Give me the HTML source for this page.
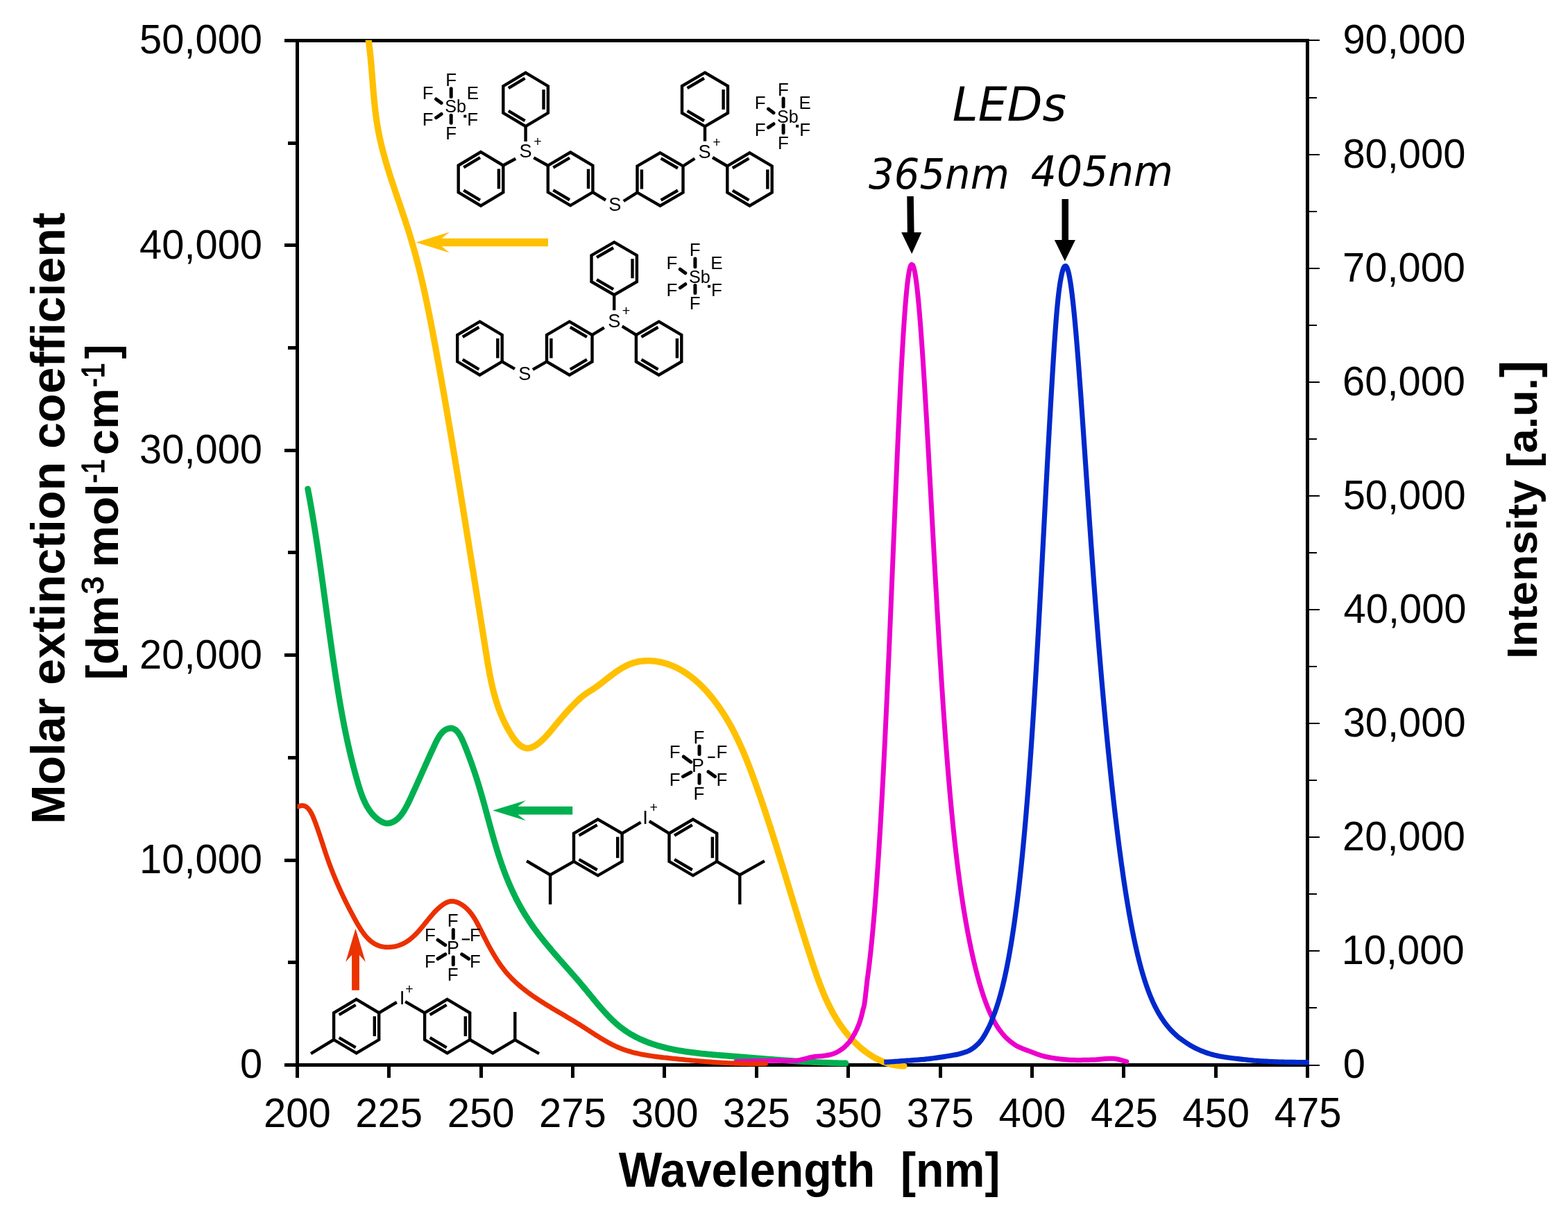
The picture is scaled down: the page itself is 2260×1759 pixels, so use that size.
<!DOCTYPE html>
<html><head><meta charset="utf-8"><title>Molar extinction coefficient and LED spectra</title>
<style>html,body{margin:0;padding:0;background:#fff;}svg{display:block;}</style>
</head><body>
<svg xmlns="http://www.w3.org/2000/svg" width="2260" height="1759" viewBox="0 0 2260 1759">
<rect width="2260" height="1759" fill="#ffffff"/>
<defs><clipPath id="pc"><rect x="428.5" y="57.8" width="1458.5" height="1490"/></clipPath></defs>
<g stroke="#000" fill="none" shape-rendering="crispEdges">
<path d="M410,58.5 H1887 M410,1535.5 H1887" stroke-width="5"/>
<path d="M428.5,56 V1554 M1884.5,56 V1554" stroke-width="5"/>
<path d="M410,1240.5 H426 M410,944.5 H426 M410,649.5 H426 M410,353.5 H426 M415,1387.5 H426 M415,1092.5 H426 M415,796.5 H426 M415,501.5 H426 M415,206.5 H426 " stroke-width="5"/>
<path d="M560.5,1538 V1554 M693.5,1538 V1554 M825.5,1538 V1554 M957.5,1538 V1554 M1090.5,1538 V1554 M1222.5,1538 V1554 M1355.5,1538 V1554 M1487.5,1538 V1554 M1619.5,1538 V1554 M1752.5,1538 V1554 " stroke-width="5"/>
<path d="M1887,1536 H1902 M1887,1371 H1902 M1887,1207 H1902 M1887,1043 H1902 M1887,879 H1902 M1887,715 H1902 M1887,551 H1902 M1887,387 H1902 M1887,223 H1902 M1887,58 H1902 " stroke-width="2"/>
<path d="M1887,1453 H1898 M1887,1289 H1898 M1887,1125 H1898 M1887,961 H1898 M1887,797 H1898 M1887,633 H1898 M1887,469 H1898 M1887,305 H1898 M1887,141 H1898 " stroke-width="2"/>
</g>
<g clip-path="url(#pc)">
<path d="M530.24,52.01 L530.55,53.99 L530.85,55.97 L531.13,57.95 L531.41,59.93 L531.68,61.91 L531.94,63.89 L532.2,65.88 L532.44,67.86 L532.68,69.85 L532.91,71.83 L533.14,73.82 L533.36,75.81 L533.57,77.8 L533.77,79.79 L533.97,81.78 L534.17,83.77 L534.36,85.76 L534.55,87.75 L534.73,89.74 L534.91,91.74 L535.08,93.73 L535.26,95.72 L535.43,97.71 L535.59,99.71 L535.76,101.7 L535.92,103.7 L536.08,105.69 L536.24,107.68 L536.4,109.68 L536.55,111.67 L536.71,113.66 L536.87,115.66 L537.02,117.65 L537.18,119.65 L537.34,121.64 L537.5,123.63 L537.66,125.63 L537.82,127.62 L537.99,129.62 L538.16,131.61 L538.33,133.6 L538.5,135.59 L538.67,137.59 L538.85,139.58 L539.04,141.57 L539.22,143.56 L539.41,145.55 L539.61,147.54 L539.81,149.53 L540.02,151.52 L540.23,153.51 L540.45,155.5 L540.67,157.49 L540.91,159.48 L541.14,161.46 L541.39,163.45 L541.64,165.43 L541.9,167.41 L542.17,169.4 L542.45,171.38 L542.73,173.36 L543.03,175.33 L543.33,177.31 L543.65,179.29 L543.97,181.26 L544.31,183.23 L544.65,185.2 L545.01,187.17 L545.38,189.14 L545.75,191.1 L546.14,193.06 L546.54,195.02 L546.95,196.98 L547.36,198.94 L547.79,200.89 L548.23,202.84 L548.67,204.79 L549.13,206.74 L549.59,208.69 L550.06,210.63 L550.54,212.57 L551.03,214.51 L551.52,216.45 L552.03,218.39 L552.54,220.32 L553.06,222.25 L553.58,224.18 L554.11,226.11 L554.65,228.04 L555.2,229.96 L555.75,231.89 L556.3,233.81 L556.87,235.73 L557.44,237.64 L558.01,239.56 L558.59,241.47 L559.17,243.39 L559.76,245.3 L560.36,247.21 L560.95,249.12 L561.56,251.03 L562.16,252.93 L562.77,254.84 L563.39,256.74 L564,258.64 L564.62,260.54 L565.25,262.44 L565.87,264.34 L566.5,266.24 L567.13,268.14 L567.77,270.04 L568.4,271.93 L569.04,273.83 L569.68,275.73 L570.32,277.62 L570.96,279.52 L571.61,281.41 L572.25,283.3 L572.9,285.2 L573.54,287.09 L574.19,288.98 L574.83,290.87 L575.48,292.77 L576.13,294.66 L576.77,296.55 L577.42,298.45 L578.06,300.34 L578.7,302.23 L579.35,304.13 L579.99,306.02 L580.63,307.92 L581.26,309.81 L581.9,311.71 L582.53,313.61 L583.17,315.51 L583.79,317.41 L584.42,319.3 L585.04,321.21 L585.66,323.11 L586.28,325.01 L586.9,326.91 L587.51,328.82 L588.11,330.72 L588.71,332.63 L589.31,334.54 L589.91,336.45 L590.5,338.36 L591.08,340.28 L591.66,342.19 L592.23,344.11 L592.8,346.02 L593.37,347.94 L593.93,349.86 L594.49,351.78 L595.04,353.7 L595.59,355.63 L596.14,357.55 L596.68,359.48 L597.21,361.41 L597.74,363.33 L598.27,365.26 L598.79,367.19 L599.31,369.12 L599.83,371.06 L600.34,372.99 L600.85,374.93 L601.35,376.86 L601.85,378.8 L602.35,380.74 L602.84,382.67 L603.33,384.61 L603.82,386.55 L604.3,388.5 L604.78,390.44 L605.25,392.38 L605.73,394.32 L606.19,396.27 L606.66,398.21 L607.12,400.16 L607.58,402.11 L608.04,404.05 L608.49,406 L608.94,407.95 L609.39,409.9 L609.83,411.85 L610.27,413.8 L610.71,415.75 L611.14,417.71 L611.58,419.66 L612.01,421.61 L612.43,423.57 L612.86,425.52 L613.28,427.48 L613.7,429.43 L614.12,431.39 L614.53,433.35 L614.94,435.3 L615.35,437.26 L615.76,439.22 L616.17,441.18 L616.57,443.14 L616.97,445.1 L617.37,447.06 L617.77,449.02 L618.17,450.98 L618.56,452.94 L618.95,454.9 L619.34,456.86 L619.73,458.82 L620.12,460.79 L620.5,462.75 L620.88,464.71 L621.27,466.68 L621.65,468.64 L622.03,470.6 L622.4,472.57 L622.78,474.53 L623.15,476.5 L623.53,478.46 L623.9,480.43 L624.27,482.39 L624.64,484.36 L625.01,486.32 L625.38,488.29 L625.75,490.26 L626.11,492.22 L626.48,494.19 L626.84,496.16 L627.21,498.12 L627.57,500.09 L627.93,502.06 L628.29,504.02 L628.65,505.99 L629.01,507.96 L629.38,509.93 L629.73,511.89 L630.09,513.86 L630.45,515.83 L630.81,517.8 L631.17,519.77 L631.52,521.73 L631.88,523.7 L632.24,525.67 L632.59,527.64 L632.95,529.61 L633.3,531.58 L633.65,533.54 L634.01,535.51 L634.36,537.48 L634.71,539.45 L635.06,541.42 L635.41,543.39 L635.76,545.36 L636.11,547.33 L636.46,549.3 L636.81,551.27 L637.16,553.24 L637.51,555.21 L637.85,557.18 L638.2,559.15 L638.55,561.12 L638.89,563.09 L639.24,565.06 L639.58,567.03 L639.93,569 L640.27,570.97 L640.62,572.94 L640.96,574.91 L641.3,576.88 L641.64,578.85 L641.99,580.82 L642.33,582.79 L642.67,584.76 L643.01,586.73 L643.35,588.7 L643.69,590.68 L644.03,592.65 L644.37,594.62 L644.7,596.59 L645.04,598.56 L645.38,600.53 L645.72,602.5 L646.05,604.48 L646.39,606.45 L646.73,608.42 L647.06,610.39 L647.4,612.36 L647.73,614.34 L648.07,616.31 L648.4,618.28 L648.73,620.25 L649.07,622.22 L649.4,624.2 L649.73,626.17 L650.07,628.14 L650.4,630.11 L650.73,632.09 L651.06,634.06 L651.39,636.03 L651.72,638 L652.05,639.98 L652.38,641.95 L652.71,643.92 L653.04,645.9 L653.37,647.87 L653.7,649.84 L654.03,651.81 L654.36,653.79 L654.68,655.76 L655.01,657.73 L655.34,659.71 L655.67,661.68 L655.99,663.65 L656.32,665.63 L656.65,667.6 L656.97,669.57 L657.3,671.55 L657.62,673.52 L657.95,675.49 L658.27,677.47 L658.6,679.44 L658.92,681.42 L659.25,683.39 L659.57,685.36 L659.89,687.34 L660.22,689.31 L660.54,691.28 L660.86,693.26 L661.19,695.23 L661.51,697.21 L661.83,699.18 L662.15,701.16 L662.47,703.13 L662.8,705.1 L663.12,707.08 L663.44,709.05 L663.76,711.03 L664.08,713 L664.4,714.97 L664.72,716.95 L665.04,718.92 L665.36,720.9 L665.68,722.87 L666,724.85 L666.32,726.82 L666.64,728.8 L666.96,730.77 L667.28,732.74 L667.6,734.72 L667.92,736.69 L668.24,738.67 L668.56,740.64 L668.88,742.62 L669.2,744.59 L669.51,746.57 L669.83,748.54 L670.15,750.52 L670.47,752.49 L670.79,754.47 L671.11,756.44 L671.42,758.42 L671.74,760.39 L672.06,762.37 L672.38,764.34 L672.69,766.32 L673.01,768.29 L673.33,770.26 L673.64,772.24 L673.96,774.21 L674.28,776.19 L674.59,778.16 L674.91,780.14 L675.23,782.11 L675.54,784.09 L675.86,786.06 L676.18,788.04 L676.49,790.01 L676.81,791.99 L677.13,793.97 L677.44,795.94 L677.76,797.92 L678.07,799.89 L678.39,801.87 L678.7,803.84 L679.02,805.82 L679.34,807.79 L679.65,809.77 L679.97,811.74 L680.28,813.72 L680.6,815.69 L680.91,817.67 L681.23,819.64 L681.54,821.62 L681.86,823.59 L682.17,825.57 L682.49,827.54 L682.8,829.52 L683.12,831.49 L683.43,833.47 L683.75,835.44 L684.06,837.42 L684.38,839.39 L684.69,841.37 L685.01,843.35 L685.32,845.32 L685.64,847.3 L685.95,849.27 L686.26,851.25 L686.58,853.22 L686.89,855.2 L687.21,857.17 L687.52,859.15 L687.84,861.12 L688.15,863.1 L688.47,865.07 L688.78,867.05 L689.09,869.02 L689.41,871 L689.72,872.98 L690.04,874.95 L690.35,876.93 L690.67,878.9 L690.98,880.88 L691.3,882.85 L691.61,884.83 L691.93,886.8 L692.24,888.78 L692.55,890.75 L692.87,892.73 L693.18,894.7 L693.5,896.68 L693.81,898.65 L694.13,900.63 L694.44,902.61 L694.76,904.58 L695.07,906.56 L695.39,908.53 L695.7,910.51 L696.02,912.48 L696.33,914.46 L696.65,916.43 L696.96,918.41 L697.28,920.38 L697.59,922.36 L697.91,924.33 L698.22,926.31 L698.54,928.28 L698.85,930.26 L699.17,932.23 L699.48,934.21 L699.8,936.18 L700.11,938.16 L700.43,940.13 L700.74,942.11 L701.06,944.09 L701.38,946.06 L701.7,948.03 L702.02,950.01 L702.34,951.98 L702.66,953.96 L702.99,955.93 L703.32,957.9 L703.66,959.87 L704,961.85 L704.35,963.82 L704.7,965.78 L705.05,967.75 L705.41,969.72 L705.78,971.69 L706.16,973.65 L706.54,975.61 L706.93,977.58 L707.33,979.54 L707.73,981.49 L708.15,983.45 L708.58,985.41 L709.01,987.36 L709.46,989.31 L709.91,991.26 L710.38,993.2 L710.86,995.14 L711.35,997.08 L711.85,999.02 L712.37,1000.95 L712.89,1002.88 L713.43,1004.81 L713.99,1006.73 L714.56,1008.64 L715.14,1010.56 L715.74,1012.47 L716.35,1014.37 L716.98,1016.27 L717.62,1018.16 L718.28,1020.05 L718.96,1021.94 L719.65,1023.81 L720.36,1025.68 L721.08,1027.55 L721.83,1029.4 L722.59,1031.25 L723.36,1033.1 L724.16,1034.93 L724.97,1036.76 L725.8,1038.58 L726.65,1040.39 L727.52,1042.19 L728.4,1043.99 L729.31,1045.77 L730.23,1047.55 L731.17,1049.31 L732.13,1051.07 L733.1,1052.81 L734.1,1054.55 L735.11,1056.27 L736.15,1057.98 L737.2,1059.68 L738.29,1061.36 L739.4,1063.02 L740.55,1064.66 L741.74,1066.27 L742.97,1067.85 L744.25,1069.38 L745.59,1070.87 L746.99,1072.29 L748.47,1073.65 L750.02,1074.91 L751.66,1076.05 L753.39,1077.05 L755.22,1077.86 L757.13,1078.44 L759.11,1078.76 L761.11,1078.78 L763.09,1078.53 L765.03,1078.04 L766.91,1077.37 L768.74,1076.55 L770.5,1075.61 L772.21,1074.58 L773.87,1073.46 L775.49,1072.28 L777.06,1071.04 L778.59,1069.76 L780.09,1068.44 L781.56,1067.08 L783,1065.69 L784.42,1064.28 L785.81,1062.84 L787.18,1061.38 L788.53,1059.91 L789.86,1058.41 L791.17,1056.91 L792.48,1055.39 L793.77,1053.86 L795.05,1052.32 L796.32,1050.78 L797.58,1049.23 L798.85,1047.68 L800.11,1046.13 L801.38,1044.58 L802.65,1043.04 L803.93,1041.5 L805.21,1039.97 L806.5,1038.43 L807.79,1036.91 L809.09,1035.39 L810.39,1033.87 L811.7,1032.36 L813.02,1030.85 L814.34,1029.35 L815.67,1027.85 L817,1026.36 L818.34,1024.88 L819.69,1023.4 L821.05,1021.93 L822.41,1020.47 L823.79,1019.02 L825.17,1017.57 L826.56,1016.13 L827.96,1014.7 L829.37,1013.28 L830.79,1011.88 L832.23,1010.49 L833.68,1009.11 L835.15,1007.76 L836.65,1006.43 L838.16,1005.12 L839.7,1003.84 L841.26,1002.59 L842.85,1001.38 L844.47,1000.21 L846.12,999.07 L847.79,997.98 L849.49,996.91 L851.18,995.86 L852.88,994.8 L854.56,993.72 L856.23,992.61 L857.88,991.48 L859.51,990.32 L861.13,989.15 L862.74,987.97 L864.34,986.77 L865.94,985.55 L867.52,984.34 L869.1,983.11 L870.68,981.88 L872.25,980.65 L873.83,979.41 L875.4,978.18 L876.98,976.95 L878.56,975.73 L880.15,974.51 L881.74,973.3 L883.35,972.1 L884.96,970.91 L886.58,969.74 L888.21,968.59 L889.86,967.45 L891.52,966.34 L893.2,965.25 L894.89,964.19 L896.61,963.16 L898.34,962.16 L900.09,961.19 L901.86,960.27 L903.66,959.39 L905.48,958.55 L907.32,957.77 L909.18,957.04 L911.06,956.37 L912.97,955.75 L914.89,955.2 L916.83,954.7 L918.78,954.26 L920.74,953.88 L922.71,953.55 L924.7,953.28 L926.68,953.06 L928.68,952.9 L930.67,952.79 L932.67,952.73 L934.67,952.72 L936.67,952.77 L938.67,952.86 L940.67,953 L942.66,953.18 L944.65,953.42 L946.63,953.69 L948.6,954.01 L950.57,954.38 L952.53,954.78 L954.47,955.23 L956.41,955.72 L958.34,956.25 L960.26,956.82 L962.17,957.43 L964.06,958.08 L965.94,958.76 L967.8,959.48 L969.66,960.24 L971.49,961.03 L973.31,961.86 L975.12,962.72 L976.91,963.61 L978.68,964.53 L980.44,965.49 L982.18,966.48 L983.9,967.49 L985.61,968.54 L987.3,969.61 L988.97,970.71 L990.62,971.83 L992.26,972.98 L993.88,974.15 L995.48,975.35 L997.07,976.57 L998.63,977.81 L1000.19,979.08 L1001.72,980.36 L1003.24,981.67 L1004.74,982.99 L1006.22,984.33 L1007.69,985.69 L1009.14,987.07 L1010.57,988.46 L1011.99,989.87 L1013.39,991.3 L1014.78,992.74 L1016.15,994.19 L1017.51,995.66 L1018.85,997.14 L1020.18,998.64 L1021.49,1000.15 L1022.79,1001.67 L1024.08,1003.2 L1025.35,1004.75 L1026.6,1006.31 L1027.85,1007.87 L1029.07,1009.45 L1030.29,1011.04 L1031.49,1012.64 L1032.68,1014.24 L1033.86,1015.86 L1035.03,1017.49 L1036.18,1019.12 L1037.32,1020.76 L1038.45,1022.42 L1039.57,1024.07 L1040.67,1025.74 L1041.77,1027.42 L1042.85,1029.1 L1043.92,1030.79 L1044.98,1032.48 L1046.03,1034.19 L1047.07,1035.9 L1048.09,1037.61 L1049.11,1039.34 L1050.12,1041.07 L1051.11,1042.8 L1052.09,1044.54 L1053.07,1046.29 L1054.03,1048.04 L1054.98,1049.8 L1055.93,1051.57 L1056.86,1053.33 L1057.78,1055.11 L1058.69,1056.89 L1059.6,1058.67 L1060.49,1060.46 L1061.38,1062.26 L1062.25,1064.05 L1063.12,1065.86 L1063.98,1067.66 L1064.83,1069.47 L1065.67,1071.29 L1066.51,1073.11 L1067.33,1074.93 L1068.15,1076.75 L1068.96,1078.58 L1069.76,1080.41 L1070.56,1082.25 L1071.34,1084.09 L1072.13,1085.93 L1072.9,1087.77 L1073.67,1089.62 L1074.43,1091.47 L1075.18,1093.32 L1075.93,1095.18 L1076.68,1097.03 L1077.42,1098.89 L1078.15,1100.75 L1078.88,1102.62 L1079.6,1104.48 L1080.32,1106.35 L1081.03,1108.22 L1081.74,1110.09 L1082.45,1111.96 L1083.15,1113.83 L1083.84,1115.71 L1084.54,1117.58 L1085.23,1119.46 L1085.92,1121.34 L1086.6,1123.22 L1087.28,1125.1 L1087.96,1126.98 L1088.64,1128.86 L1089.32,1130.74 L1089.99,1132.63 L1090.66,1134.51 L1091.33,1136.4 L1091.99,1138.28 L1092.66,1140.17 L1093.32,1142.06 L1093.98,1143.95 L1094.63,1145.84 L1095.29,1147.73 L1095.94,1149.62 L1096.59,1151.51 L1097.24,1153.4 L1097.89,1155.29 L1098.53,1157.19 L1099.18,1159.08 L1099.82,1160.98 L1100.46,1162.87 L1101.09,1164.77 L1101.73,1166.66 L1102.36,1168.56 L1102.99,1170.46 L1103.62,1172.36 L1104.25,1174.26 L1104.88,1176.16 L1105.5,1178.06 L1106.13,1179.96 L1106.75,1181.86 L1107.37,1183.76 L1107.99,1185.66 L1108.61,1187.56 L1109.22,1189.47 L1109.84,1191.37 L1110.45,1193.27 L1111.06,1195.18 L1111.67,1197.08 L1112.28,1198.99 L1112.89,1200.89 L1113.49,1202.8 L1114.1,1204.71 L1114.7,1206.61 L1115.31,1208.52 L1115.91,1210.43 L1116.51,1212.34 L1117.11,1214.25 L1117.71,1216.15 L1118.3,1218.06 L1118.9,1219.97 L1119.49,1221.88 L1120.09,1223.79 L1120.68,1225.7 L1121.28,1227.61 L1121.87,1229.52 L1122.46,1231.43 L1123.05,1233.34 L1123.64,1235.26 L1124.23,1237.17 L1124.81,1239.08 L1125.4,1240.99 L1125.99,1242.9 L1126.58,1244.82 L1127.16,1246.73 L1127.75,1248.64 L1128.33,1250.55 L1128.91,1252.47 L1129.5,1254.38 L1130.08,1256.29 L1130.66,1258.21 L1131.25,1260.12 L1131.83,1262.03 L1132.41,1263.95 L1132.99,1265.86 L1133.57,1267.78 L1134.15,1269.69 L1134.73,1271.6 L1135.31,1273.52 L1135.89,1275.43 L1136.47,1277.35 L1137.05,1279.26 L1137.63,1281.18 L1138.21,1283.09 L1138.79,1285 L1139.37,1286.92 L1139.95,1288.83 L1140.53,1290.75 L1141.11,1292.66 L1141.69,1294.58 L1142.28,1296.49 L1142.86,1298.4 L1143.44,1300.32 L1144.02,1302.23 L1144.6,1304.14 L1145.18,1306.06 L1145.76,1307.97 L1146.35,1309.89 L1146.93,1311.8 L1147.51,1313.71 L1148.1,1315.63 L1148.68,1317.54 L1149.27,1319.45 L1149.85,1321.36 L1150.44,1323.28 L1151.03,1325.19 L1151.61,1327.1 L1152.2,1329.01 L1152.79,1330.92 L1153.38,1332.83 L1153.97,1334.75 L1154.56,1336.66 L1155.15,1338.57 L1155.74,1340.48 L1156.34,1342.39 L1156.93,1344.3 L1157.53,1346.21 L1158.12,1348.12 L1158.72,1350.03 L1159.32,1351.93 L1159.92,1353.84 L1160.52,1355.75 L1161.12,1357.66 L1161.72,1359.57 L1162.33,1361.47 L1162.93,1363.38 L1163.54,1365.29 L1164.15,1367.19 L1164.75,1369.1 L1165.36,1371 L1165.98,1372.91 L1166.59,1374.81 L1167.2,1376.71 L1167.82,1378.62 L1168.44,1380.52 L1169.05,1382.42 L1169.67,1384.32 L1170.3,1386.22 L1170.92,1388.12 L1171.55,1390.02 L1172.18,1391.92 L1172.81,1393.82 L1173.44,1395.72 L1174.08,1397.61 L1174.73,1399.51 L1175.37,1401.4 L1176.03,1403.29 L1176.69,1405.18 L1177.35,1407.06 L1178.02,1408.95 L1178.69,1410.83 L1179.38,1412.71 L1180.06,1414.59 L1180.76,1416.47 L1181.46,1418.34 L1182.17,1420.21 L1182.89,1422.08 L1183.62,1423.94 L1184.35,1425.8 L1185.1,1427.66 L1185.85,1429.51 L1186.62,1431.36 L1187.39,1433.2 L1188.18,1435.04 L1188.97,1436.88 L1189.78,1438.71 L1190.59,1440.53 L1191.42,1442.35 L1192.26,1444.17 L1193.12,1445.98 L1193.98,1447.78 L1194.86,1449.58 L1195.75,1451.37 L1196.65,1453.15 L1197.57,1454.93 L1198.51,1456.7 L1199.45,1458.46 L1200.41,1460.22 L1201.39,1461.96 L1202.38,1463.7 L1203.39,1465.43 L1204.41,1467.15 L1205.45,1468.86 L1206.5,1470.56 L1207.57,1472.25 L1208.66,1473.93 L1209.76,1475.6 L1210.88,1477.25 L1212.01,1478.9 L1213.17,1480.53 L1214.34,1482.16 L1215.52,1483.77 L1216.73,1485.36 L1217.95,1486.95 L1219.19,1488.52 L1220.45,1490.07 L1221.72,1491.62 L1223.01,1493.14 L1224.32,1494.66 L1225.65,1496.15 L1226.99,1497.63 L1228.35,1499.1 L1229.73,1500.55 L1231.13,1501.98 L1232.54,1503.39 L1233.97,1504.79 L1235.42,1506.17 L1236.89,1507.53 L1238.38,1508.87 L1239.88,1510.19 L1241.4,1511.48 L1242.94,1512.76 L1244.5,1514.02 L1246.08,1515.25 L1247.67,1516.45 L1249.28,1517.64 L1250.91,1518.79 L1252.56,1519.93 L1254.23,1521.03 L1255.92,1522.11 L1257.62,1523.16 L1259.34,1524.17 L1261.08,1525.16 L1262.84,1526.12 L1264.61,1527.04 L1266.41,1527.93 L1268.22,1528.78 L1270.04,1529.6 L1271.88,1530.38 L1273.74,1531.12 L1275.61,1531.82 L1277.5,1532.49 L1279.4,1533.11 L1281.32,1533.69 L1283.24,1534.22 L1285.18,1534.71 L1287.13,1535.16 L1289.09,1535.56 L1291.06,1535.91 L1293.04,1536.21 L1295.02,1536.47 L1297.01,1536.67 L1299,1536.83 L1301,1536.94 L1303,1537" fill="none" stroke="#FFC000" stroke-width="9.2" stroke-linejoin="round" stroke-linecap="round"/>
<path d="M443.63,704.8 L444,706.77 L444.37,708.74 L444.74,710.7 L445.11,712.67 L445.47,714.64 L445.83,716.61 L446.19,718.58 L446.54,720.55 L446.9,722.52 L447.25,724.49 L447.6,726.46 L447.94,728.43 L448.29,730.4 L448.63,732.37 L448.97,734.35 L449.31,736.32 L449.65,738.29 L449.98,740.27 L450.32,742.24 L450.65,744.21 L450.98,746.19 L451.3,748.16 L451.63,750.14 L451.95,752.11 L452.27,754.09 L452.59,756.06 L452.91,758.04 L453.23,760.02 L453.54,761.99 L453.86,763.97 L454.17,765.95 L454.48,767.92 L454.79,769.9 L455.1,771.88 L455.4,773.86 L455.71,775.84 L456.01,777.82 L456.31,779.79 L456.61,781.77 L456.91,783.75 L457.21,785.73 L457.5,787.71 L457.8,789.69 L458.09,791.67 L458.38,793.65 L458.68,795.63 L458.97,797.61 L459.26,799.59 L459.54,801.57 L459.83,803.55 L460.12,805.53 L460.4,807.52 L460.69,809.5 L460.97,811.48 L461.25,813.46 L461.53,815.44 L461.81,817.42 L462.09,819.41 L462.37,821.39 L462.65,823.37 L462.93,825.35 L463.2,827.33 L463.48,829.32 L463.76,831.3 L464.03,833.28 L464.31,835.26 L464.58,837.25 L464.85,839.23 L465.13,841.21 L465.4,843.2 L465.67,845.18 L465.94,847.16 L466.21,849.15 L466.48,851.13 L466.75,853.11 L467.02,855.1 L467.29,857.08 L467.56,859.06 L467.83,861.05 L468.1,863.03 L468.37,865.01 L468.64,867 L468.9,868.98 L469.17,870.96 L469.44,872.95 L469.71,874.93 L469.98,876.91 L470.24,878.9 L470.51,880.88 L470.78,882.86 L471.05,884.85 L471.32,886.83 L471.59,888.81 L471.86,890.8 L472.13,892.78 L472.39,894.76 L472.66,896.75 L472.93,898.73 L473.2,900.71 L473.47,902.7 L473.75,904.68 L474.02,906.66 L474.29,908.65 L474.56,910.63 L474.83,912.61 L475.11,914.6 L475.38,916.58 L475.66,918.56 L475.93,920.54 L476.21,922.53 L476.48,924.51 L476.76,926.49 L477.04,928.47 L477.32,930.46 L477.6,932.44 L477.88,934.42 L478.16,936.4 L478.44,938.38 L478.72,940.36 L479,942.35 L479.29,944.33 L479.57,946.31 L479.86,948.29 L480.15,950.27 L480.44,952.25 L480.73,954.23 L481.02,956.21 L481.31,958.19 L481.6,960.17 L481.9,962.15 L482.19,964.13 L482.49,966.11 L482.79,968.09 L483.09,970.07 L483.39,972.05 L483.69,974.03 L483.99,976 L484.3,977.98 L484.61,979.96 L484.91,981.94 L485.22,983.92 L485.54,985.89 L485.85,987.87 L486.16,989.85 L486.48,991.82 L486.8,993.8 L487.12,995.77 L487.44,997.75 L487.76,999.73 L488.09,1001.7 L488.41,1003.68 L488.74,1005.65 L489.07,1007.62 L489.41,1009.6 L489.74,1011.57 L490.08,1013.54 L490.42,1015.52 L490.76,1017.49 L491.11,1019.46 L491.45,1021.43 L491.8,1023.4 L492.16,1025.37 L492.51,1027.34 L492.87,1029.31 L493.23,1031.28 L493.59,1033.25 L493.96,1035.22 L494.33,1037.18 L494.7,1039.15 L495.08,1041.12 L495.45,1043.08 L495.84,1045.05 L496.22,1047.01 L496.61,1048.97 L497,1050.94 L497.39,1052.9 L497.79,1054.86 L498.19,1056.82 L498.6,1058.78 L499,1060.74 L499.42,1062.7 L499.83,1064.66 L500.25,1066.62 L500.67,1068.57 L501.1,1070.53 L501.53,1072.48 L501.96,1074.44 L502.4,1076.39 L502.84,1078.34 L503.29,1080.29 L503.74,1082.24 L504.19,1084.19 L504.65,1086.14 L505.11,1088.09 L505.58,1090.04 L506.05,1091.98 L506.52,1093.93 L507,1095.87 L507.48,1097.81 L507.97,1099.75 L508.46,1101.69 L508.96,1103.63 L509.46,1105.57 L509.96,1107.51 L510.47,1109.45 L510.98,1111.38 L511.5,1113.31 L512.02,1115.25 L512.55,1117.18 L513.08,1119.11 L513.62,1121.03 L514.16,1122.96 L514.7,1124.89 L515.25,1126.81 L515.81,1128.73 L516.37,1130.66 L516.95,1132.57 L517.53,1134.49 L518.13,1136.4 L518.74,1138.3 L519.36,1140.21 L520.01,1142.1 L520.67,1143.99 L521.36,1145.87 L522.06,1147.74 L522.79,1149.61 L523.55,1151.46 L524.34,1153.3 L525.16,1155.13 L526.01,1156.94 L526.89,1158.73 L527.82,1160.51 L528.78,1162.26 L529.78,1164 L530.82,1165.7 L531.91,1167.38 L533.05,1169.03 L534.23,1170.65 L535.46,1172.22 L536.75,1173.76 L538.08,1175.25 L539.47,1176.69 L540.91,1178.08 L542.4,1179.42 L543.94,1180.7 L545.53,1181.91 L547.17,1183.06 L548.87,1184.12 L550.63,1185.06 L552.47,1185.87 L554.36,1186.5 L556.32,1186.9 L558.32,1187.05 L560.31,1186.94 L562.28,1186.59 L564.2,1186.02 L566.06,1185.28 L567.84,1184.37 L569.54,1183.31 L571.16,1182.14 L572.7,1180.86 L574.17,1179.49 L575.55,1178.05 L576.87,1176.55 L578.13,1174.99 L579.33,1173.39 L580.49,1171.75 L581.59,1170.08 L582.65,1168.39 L583.68,1166.67 L584.67,1164.93 L585.63,1163.18 L586.57,1161.41 L587.48,1159.63 L588.38,1157.83 L589.25,1156.04 L590.12,1154.23 L590.97,1152.42 L591.82,1150.6 L592.66,1148.79 L593.5,1146.97 L594.33,1145.15 L595.17,1143.33 L596,1141.51 L596.83,1139.69 L597.66,1137.87 L598.49,1136.05 L599.32,1134.23 L600.14,1132.4 L600.97,1130.58 L601.79,1128.75 L602.61,1126.93 L603.43,1125.1 L604.25,1123.28 L605.07,1121.45 L605.88,1119.62 L606.7,1117.8 L607.52,1115.97 L608.33,1114.14 L609.15,1112.31 L609.97,1110.49 L610.78,1108.66 L611.6,1106.83 L612.42,1105 L613.24,1103.18 L614.06,1101.35 L614.88,1099.53 L615.7,1097.7 L616.52,1095.87 L617.34,1094.05 L618.17,1092.23 L618.99,1090.4 L619.82,1088.58 L620.65,1086.76 L621.48,1084.94 L622.32,1083.12 L623.15,1081.3 L623.99,1079.48 L624.83,1077.66 L625.67,1075.85 L626.51,1074.03 L627.36,1072.22 L628.22,1070.41 L629.11,1068.62 L630.02,1066.84 L630.98,1065.08 L631.98,1063.35 L633.03,1061.64 L634.15,1059.99 L635.35,1058.38 L636.63,1056.85 L638.02,1055.4 L639.51,1054.07 L641.12,1052.88 L642.84,1051.85 L644.65,1051.01 L646.55,1050.38 L648.51,1050.01 L650.51,1049.96 L652.48,1050.3 L654.35,1051.01 L656.07,1052.03 L657.63,1053.29 L659.04,1054.71 L660.32,1056.25 L661.49,1057.87 L662.57,1059.55 L663.58,1061.28 L664.53,1063.04 L665.42,1064.83 L666.28,1066.64 L667.1,1068.47 L667.9,1070.3 L668.68,1072.15 L669.44,1074 L670.2,1075.85 L670.95,1077.7 L671.69,1079.56 L672.43,1081.42 L673.16,1083.29 L673.89,1085.15 L674.61,1087.02 L675.32,1088.89 L676.03,1090.76 L676.73,1092.64 L677.42,1094.52 L678.11,1096.4 L678.79,1098.28 L679.47,1100.16 L680.14,1102.05 L680.8,1103.94 L681.46,1105.83 L682.11,1107.72 L682.76,1109.61 L683.4,1111.51 L684.03,1113.41 L684.66,1115.31 L685.28,1117.21 L685.9,1119.12 L686.51,1121.02 L687.12,1122.93 L687.72,1124.84 L688.32,1126.75 L688.91,1128.66 L689.5,1130.57 L690.08,1132.49 L690.66,1134.4 L691.23,1136.32 L691.8,1138.24 L692.36,1140.16 L692.93,1142.08 L693.48,1144 L694.04,1145.93 L694.59,1147.85 L695.13,1149.78 L695.68,1151.7 L696.22,1153.63 L696.76,1155.56 L697.29,1157.49 L697.83,1159.42 L698.36,1161.35 L698.89,1163.28 L699.41,1165.21 L699.94,1167.14 L700.47,1169.07 L700.99,1171 L701.52,1172.93 L702.04,1174.87 L702.56,1176.8 L703.09,1178.73 L703.61,1180.66 L704.13,1182.59 L704.66,1184.52 L705.18,1186.46 L705.71,1188.39 L706.24,1190.32 L706.77,1192.25 L707.3,1194.18 L707.83,1196.11 L708.36,1198.04 L708.9,1199.97 L709.44,1201.89 L709.98,1203.82 L710.53,1205.75 L711.07,1207.67 L711.62,1209.6 L712.18,1211.52 L712.74,1213.44 L713.3,1215.36 L713.87,1217.28 L714.44,1219.2 L715.01,1221.12 L715.59,1223.03 L716.18,1224.95 L716.77,1226.86 L717.36,1228.77 L717.97,1230.68 L718.57,1232.59 L719.19,1234.49 L719.8,1236.4 L720.43,1238.3 L721.06,1240.2 L721.7,1242.09 L722.35,1243.99 L723,1245.88 L723.66,1247.77 L724.33,1249.66 L725,1251.54 L725.69,1253.42 L726.38,1255.3 L727.08,1257.17 L727.79,1259.05 L728.51,1260.91 L729.23,1262.78 L729.97,1264.64 L730.71,1266.5 L731.47,1268.35 L732.23,1270.2 L733,1272.05 L733.79,1273.89 L734.58,1275.73 L735.38,1277.56 L736.19,1279.39 L737.02,1281.22 L737.85,1283.04 L738.69,1284.85 L739.54,1286.67 L740.4,1288.47 L741.27,1290.28 L742.15,1292.07 L743.04,1293.86 L743.94,1295.65 L744.86,1297.43 L745.78,1299.21 L746.71,1300.98 L747.65,1302.75 L748.61,1304.51 L749.57,1306.26 L750.54,1308.01 L751.53,1309.75 L752.52,1311.49 L753.53,1313.22 L754.54,1314.95 L755.57,1316.66 L756.61,1318.38 L757.66,1320.08 L758.72,1321.78 L759.79,1323.47 L760.87,1325.15 L761.96,1326.83 L763.07,1328.5 L764.18,1330.16 L765.31,1331.82 L766.44,1333.47 L767.59,1335.11 L768.74,1336.74 L769.91,1338.37 L771.08,1339.99 L772.27,1341.6 L773.46,1343.21 L774.66,1344.81 L775.87,1346.41 L777.08,1348 L778.31,1349.58 L779.54,1351.16 L780.78,1352.73 L782.02,1354.3 L783.27,1355.86 L784.53,1357.42 L785.79,1358.97 L787.06,1360.52 L788.33,1362.07 L789.61,1363.61 L790.9,1365.14 L792.18,1366.68 L793.47,1368.2 L794.77,1369.73 L796.07,1371.25 L797.37,1372.77 L798.68,1374.29 L799.99,1375.8 L801.3,1377.31 L802.61,1378.82 L803.93,1380.33 L805.25,1381.84 L806.57,1383.34 L807.89,1384.84 L809.21,1386.35 L810.54,1387.85 L811.86,1389.35 L813.19,1390.85 L814.51,1392.35 L815.84,1393.85 L817.16,1395.35 L818.49,1396.85 L819.81,1398.35 L821.14,1399.85 L822.46,1401.35 L823.78,1402.86 L825.1,1404.36 L826.42,1405.87 L827.74,1407.38 L829.05,1408.89 L830.36,1410.4 L831.67,1411.91 L832.97,1413.43 L834.28,1414.95 L835.58,1416.47 L836.87,1418 L838.17,1419.53 L839.45,1421.06 L840.74,1422.59 L842.02,1424.13 L843.29,1425.67 L844.57,1427.22 L845.84,1428.76 L847.11,1430.31 L848.37,1431.86 L849.64,1433.41 L850.91,1434.96 L852.18,1436.51 L853.44,1438.06 L854.71,1439.6 L855.99,1441.15 L857.26,1442.69 L858.54,1444.23 L859.82,1445.77 L861.11,1447.3 L862.4,1448.83 L863.7,1450.36 L865,1451.88 L866.31,1453.39 L867.63,1454.9 L868.96,1456.39 L870.29,1457.89 L871.63,1459.37 L872.99,1460.84 L874.35,1462.31 L875.73,1463.76 L877.12,1465.21 L878.51,1466.64 L879.93,1468.06 L881.35,1469.46 L882.79,1470.85 L884.24,1472.23 L885.71,1473.59 L887.2,1474.93 L888.7,1476.26 L890.21,1477.56 L891.75,1478.85 L893.3,1480.11 L894.87,1481.36 L896.45,1482.58 L898.06,1483.77 L899.68,1484.94 L901.32,1486.09 L902.98,1487.21 L904.66,1488.31 L906.35,1489.38 L908.05,1490.42 L909.77,1491.45 L911.51,1492.44 L913.26,1493.42 L915.02,1494.37 L916.79,1495.29 L918.58,1496.2 L920.38,1497.08 L922.19,1497.93 L924.01,1498.77 L925.84,1499.58 L927.68,1500.37 L929.52,1501.13 L931.38,1501.88 L933.25,1502.61 L935.12,1503.31 L937,1504 L938.89,1504.66 L940.78,1505.31 L942.68,1505.94 L944.59,1506.55 L946.5,1507.14 L948.42,1507.71 L950.34,1508.26 L952.27,1508.8 L954.2,1509.33 L956.14,1509.83 L958.08,1510.32 L960.02,1510.8 L961.97,1511.26 L963.92,1511.71 L965.88,1512.14 L967.84,1512.56 L969.8,1512.96 L971.76,1513.36 L973.72,1513.74 L975.69,1514.1 L977.66,1514.46 L979.63,1514.81 L981.6,1515.14 L983.58,1515.46 L985.56,1515.78 L987.54,1516.08 L989.52,1516.37 L991.5,1516.66 L993.48,1516.94 L995.46,1517.2 L997.45,1517.46 L999.43,1517.71 L1001.42,1517.96 L1003.41,1518.19 L1005.4,1518.42 L1007.38,1518.65 L1009.37,1518.87 L1011.36,1519.08 L1013.36,1519.28 L1015.35,1519.48 L1017.34,1519.68 L1019.33,1519.87 L1021.32,1520.06 L1023.32,1520.24 L1025.31,1520.42 L1027.31,1520.59 L1029.3,1520.77 L1031.29,1520.94 L1033.29,1521.1 L1035.28,1521.27 L1037.28,1521.43 L1039.27,1521.59 L1041.27,1521.75 L1043.26,1521.91 L1045.26,1522.07 L1047.25,1522.23 L1049.25,1522.39 L1051.24,1522.55 L1053.24,1522.71 L1055.24,1522.86 L1057.23,1523.03 L1059.23,1523.19 L1061.22,1523.35 L1063.22,1523.51 L1065.21,1523.67 L1067.21,1523.83 L1069.2,1523.99 L1071.2,1524.15 L1073.19,1524.32 L1075.19,1524.48 L1077.18,1524.64 L1079.18,1524.8 L1081.17,1524.97 L1083.17,1525.13 L1085.16,1525.29 L1087.16,1525.45 L1089.15,1525.61 L1091.15,1525.77 L1093.14,1525.93 L1095.14,1526.09 L1097.13,1526.25 L1099.13,1526.41 L1101.12,1526.57 L1103.12,1526.72 L1105.11,1526.88 L1107.11,1527.04 L1109.1,1527.19 L1111.1,1527.35 L1113.1,1527.5 L1115.09,1527.65 L1117.09,1527.8 L1119.08,1527.95 L1121.08,1528.1 L1123.08,1528.25 L1125.07,1528.39 L1127.07,1528.54 L1129.06,1528.68 L1131.06,1528.82 L1133.06,1528.97 L1135.05,1529.1 L1137.05,1529.24 L1139.05,1529.38 L1141.05,1529.51 L1143.04,1529.65 L1145.04,1529.78 L1147.04,1529.91 L1149.03,1530.03 L1151.03,1530.16 L1153.03,1530.28 L1155.03,1530.4 L1157.03,1530.52 L1159.02,1530.64 L1161.02,1530.76 L1163.02,1530.87 L1165.02,1530.98 L1167.02,1531.09 L1169.02,1531.2 L1171.02,1531.3 L1173.01,1531.4 L1175.01,1531.5 L1177.01,1531.6 L1179.01,1531.69 L1181.01,1531.78 L1183.01,1531.87 L1185.01,1531.96 L1187.01,1532.04 L1189.01,1532.13 L1191.01,1532.2 L1193.01,1532.28 L1195.01,1532.35 L1197.01,1532.42 L1199.01,1532.49 L1201.01,1532.56 L1203.01,1532.62 L1205.01,1532.68 L1207.01,1532.73 L1209.02,1532.79 L1211.02,1532.84 L1213.02,1532.88 L1215.02,1532.93 L1217.02,1532.97 L1219.02,1533.01" fill="none" stroke="#00B050" stroke-width="8.8" stroke-linejoin="round" stroke-linecap="round"/>
<path d="M1061,1530.5 L1061.91,1530.48 L1063.06,1530.45 L1064.39,1530.41 L1065.89,1530.37 L1067.52,1530.33 L1069.25,1530.28 L1071.05,1530.23 L1072.89,1530.19 L1074.73,1530.14 L1076.56,1530.09 L1078.32,1530.04 L1080,1530 L1081.63,1529.96 L1083.28,1529.91 L1084.93,1529.87 L1086.59,1529.83 L1088.26,1529.78 L1089.94,1529.74 L1091.62,1529.69 L1093.3,1529.65 L1094.98,1529.61 L1096.66,1529.57 L1098.33,1529.53 L1100,1529.5 L1101.67,1529.47 L1103.33,1529.43 L1105,1529.39 L1106.67,1529.36 L1108.33,1529.33 L1110,1529.29 L1111.67,1529.27 L1113.33,1529.24 L1115,1529.22 L1116.67,1529.21 L1118.33,1529.2 L1120,1529.2 L1121.7,1529.21 L1123.45,1529.24 L1125.23,1529.27 L1127.04,1529.32 L1128.84,1529.37 L1130.62,1529.42 L1132.38,1529.47 L1134.07,1529.51 L1135.7,1529.55 L1137.25,1529.58 L1138.68,1529.6 L1140,1529.6 L1141.18,1529.59 L1142.25,1529.58 L1143.2,1529.56 L1144.07,1529.54 L1144.88,1529.51 L1145.62,1529.47 L1146.34,1529.43 L1147.04,1529.37 L1147.73,1529.3 L1148.45,1529.22 L1149.2,1529.12 L1150,1529 L1150.82,1528.87 L1151.63,1528.71 L1152.42,1528.54 L1153.2,1528.36 L1153.98,1528.16 L1154.77,1527.96 L1155.58,1527.74 L1156.4,1527.52 L1157.25,1527.29 L1158.12,1527.06 L1159.04,1526.83 L1160,1526.6 L1161.01,1526.36 L1162.06,1526.1 L1163.14,1525.83 L1164.26,1525.55 L1165.4,1525.26 L1166.56,1524.97 L1167.74,1524.69 L1168.92,1524.42 L1170.1,1524.16 L1171.28,1523.91 L1172.45,1523.69 L1173.6,1523.5 L1174.74,1523.34 L1175.88,1523.21 L1177.02,1523.12 L1178.16,1523.04 L1179.3,1522.97 L1180.44,1522.91 L1181.59,1522.85 L1182.74,1522.79 L1183.9,1522.7 L1185.06,1522.6 L1186.22,1522.47 L1187.4,1522.3 L1188.59,1522.11 L1189.81,1521.91 L1191.04,1521.7 L1192.28,1521.48 L1193.52,1521.25 L1194.77,1520.99 L1196.01,1520.72 L1197.23,1520.43 L1198.44,1520.11 L1199.63,1519.77 L1200.78,1519.4 L1201.9,1519 L1202.99,1518.57 L1204.06,1518.11 L1205.11,1517.62 L1206.15,1517.1 L1207.16,1516.57 L1208.16,1516.01 L1209.14,1515.43 L1210.11,1514.83 L1211.05,1514.22 L1211.99,1513.59 L1212.9,1512.95 L1213.8,1512.3 L1214.68,1511.64 L1215.55,1510.95 L1216.4,1510.25 L1217.23,1509.53 L1218.04,1508.8 L1218.84,1508.05 L1219.63,1507.29 L1220.39,1506.51 L1221.14,1505.72 L1221.88,1504.92 L1222.6,1504.12 L1223.3,1503.3 L1223.98,1502.47 L1224.65,1501.63 L1225.29,1500.77 L1225.92,1499.9 L1226.53,1499.02 L1227.12,1498.13 L1227.71,1497.23 L1228.28,1496.32 L1228.85,1495.4 L1229.4,1494.47 L1229.95,1493.54 L1230.5,1492.6 L1231.04,1491.65 L1231.58,1490.69 L1232.11,1489.71 L1232.63,1488.72 L1233.14,1487.73 L1233.64,1486.72 L1234.13,1485.72 L1234.61,1484.71 L1235.08,1483.7 L1235.53,1482.7 L1235.97,1481.7 L1236.4,1480.7 L1236.81,1479.71 L1237.21,1478.72 L1237.6,1477.73 L1237.97,1476.73 L1238.33,1475.74 L1238.68,1474.75 L1239.02,1473.76 L1239.35,1472.77 L1239.67,1471.78 L1239.99,1470.78 L1240.3,1469.79 L1240.6,1468.8 L1240.89,1467.81 L1241.17,1466.82 L1241.44,1465.83 L1241.7,1464.83 L1241.95,1463.84 L1242.19,1462.85 L1242.43,1461.86 L1242.67,1460.87 L1242.9,1459.87 L1243.13,1458.88 L1243.36,1457.89 L1243.6,1456.9 L1243.83,1455.97 L1244.06,1455.15 L1244.27,1454.41 L1244.49,1453.69 L1244.7,1452.98 L1244.91,1452.23 L1245.12,1451.41 L1245.34,1450.48 L1245.56,1449.42 L1245.8,1448.17 L1246.04,1446.71 L1246.3,1445 L1246.58,1442.92 L1246.9,1440.44 L1247.23,1437.63 L1247.59,1434.6 L1247.94,1431.42 L1248.3,1428.19 L1248.65,1424.99 L1248.98,1421.92 L1249.29,1419.05 L1249.57,1416.49 L1249.81,1414.32 L1250,1412.62 L1250.14,1411.38 L1250.25,1410.5 L1250.32,1409.94 L1250.36,1409.63 L1250.37,1409.54 L1250.37,1409.6 L1250.35,1409.78 L1250.33,1410.02 L1250.31,1410.28 L1250.29,1410.5 L1250.27,1410.63 L1250.28,1410.64 L1250.55,1408.65 L1250.82,1406.67 L1251.08,1404.69 L1251.34,1402.71 L1251.6,1400.72 L1251.85,1398.74 L1252.1,1396.76 L1252.35,1394.77 L1252.59,1392.79 L1252.83,1390.8 L1253.07,1388.81 L1253.3,1386.83 L1253.53,1384.84 L1253.76,1382.85 L1253.99,1380.87 L1254.21,1378.88 L1254.43,1376.89 L1254.65,1374.9 L1254.87,1372.92 L1255.08,1370.93 L1255.29,1368.94 L1255.5,1366.95 L1255.71,1364.96 L1255.91,1362.97 L1256.11,1360.98 L1256.32,1358.99 L1256.51,1357 L1256.71,1355.01 L1256.91,1353.02 L1257.1,1351.03 L1257.29,1349.04 L1257.48,1347.05 L1257.67,1345.06 L1257.85,1343.06 L1258.04,1341.07 L1258.22,1339.08 L1258.4,1337.09 L1258.58,1335.1 L1258.76,1333.11 L1258.94,1331.11 L1259.11,1329.12 L1259.29,1327.13 L1259.46,1325.14 L1259.63,1323.14 L1259.8,1321.15 L1259.97,1319.16 L1260.14,1317.17 L1260.3,1315.17 L1260.47,1313.18 L1260.63,1311.19 L1260.79,1309.19 L1260.96,1307.2 L1261.12,1305.21 L1261.28,1303.21 L1261.43,1301.22 L1261.59,1299.22 L1261.75,1297.23 L1261.9,1295.24 L1262.06,1293.24 L1262.21,1291.25 L1262.36,1289.25 L1262.51,1287.26 L1262.66,1285.27 L1262.81,1283.27 L1262.96,1281.28 L1263.11,1279.28 L1263.25,1277.29 L1263.4,1275.29 L1263.54,1273.3 L1263.69,1271.3 L1263.83,1269.31 L1263.97,1267.31 L1264.11,1265.32 L1264.25,1263.32 L1264.39,1261.33 L1264.53,1259.33 L1264.67,1257.34 L1264.81,1255.34 L1264.94,1253.35 L1265.08,1251.35 L1265.21,1249.36 L1265.35,1247.36 L1265.48,1245.36 L1265.62,1243.37 L1265.75,1241.37 L1265.88,1239.38 L1266.01,1237.38 L1266.14,1235.39 L1266.27,1233.39 L1266.4,1231.4 L1266.53,1229.4 L1266.66,1227.4 L1266.78,1225.41 L1266.91,1223.41 L1267.04,1221.42 L1267.16,1219.42 L1267.29,1217.42 L1267.41,1215.43 L1267.54,1213.43 L1267.66,1211.43 L1267.78,1209.44 L1267.91,1207.44 L1268.03,1205.45 L1268.15,1203.45 L1268.27,1201.45 L1268.39,1199.46 L1268.51,1197.46 L1268.63,1195.46 L1268.75,1193.47 L1268.87,1191.47 L1268.98,1189.47 L1269.1,1187.48 L1269.22,1185.48 L1269.33,1183.48 L1269.45,1181.49 L1269.57,1179.49 L1269.68,1177.49 L1269.8,1175.5 L1269.91,1173.5 L1270.02,1171.5 L1270.14,1169.51 L1270.25,1167.51 L1270.36,1165.51 L1270.47,1163.52 L1270.59,1161.52 L1270.7,1159.52 L1270.81,1157.53 L1270.92,1155.53 L1271.03,1153.53 L1271.14,1151.54 L1271.25,1149.54 L1271.36,1147.54 L1271.47,1145.54 L1271.57,1143.55 L1271.68,1141.55 L1271.79,1139.55 L1271.9,1137.56 L1272,1135.56 L1272.11,1133.56 L1272.22,1131.56 L1272.32,1129.57 L1272.43,1127.57 L1272.53,1125.57 L1272.64,1123.58 L1272.74,1121.58 L1272.85,1119.58 L1272.95,1117.58 L1273.06,1115.59 L1273.16,1113.59 L1273.26,1111.59 L1273.37,1109.59 L1273.47,1107.6 L1273.57,1105.6 L1273.67,1103.6 L1273.77,1101.61 L1273.88,1099.61 L1273.98,1097.61 L1274.08,1095.61 L1274.18,1093.62 L1274.28,1091.62 L1274.38,1089.62 L1274.48,1087.62 L1274.58,1085.63 L1274.68,1083.63 L1274.78,1081.63 L1274.88,1079.63 L1274.97,1077.64 L1275.07,1075.64 L1275.17,1073.64 L1275.27,1071.64 L1275.37,1069.64 L1275.46,1067.65 L1275.56,1065.65 L1275.66,1063.65 L1275.75,1061.65 L1275.85,1059.66 L1275.95,1057.66 L1276.04,1055.66 L1276.14,1053.66 L1276.23,1051.67 L1276.33,1049.67 L1276.42,1047.67 L1276.52,1045.67 L1276.61,1043.67 L1276.71,1041.68 L1276.8,1039.68 L1276.9,1037.68 L1276.99,1035.68 L1277.08,1033.69 L1277.18,1031.69 L1277.27,1029.69 L1277.36,1027.69 L1277.46,1025.69 L1277.55,1023.7 L1277.64,1021.7 L1277.73,1019.7 L1277.83,1017.7 L1277.92,1015.71 L1278.01,1013.71 L1278.1,1011.71 L1278.19,1009.71 L1278.28,1007.71 L1278.38,1005.72 L1278.47,1003.72 L1278.56,1001.72 L1278.65,999.72 L1278.74,997.72 L1278.83,995.73 L1278.92,993.73 L1279.01,991.73 L1279.1,989.73 L1279.19,987.73 L1279.28,985.74 L1279.37,983.74 L1279.46,981.74 L1279.55,979.74 L1279.64,977.74 L1279.72,975.75 L1279.81,973.75 L1279.9,971.75 L1279.99,969.75 L1280.08,967.75 L1280.17,965.76 L1280.25,963.76 L1280.34,961.76 L1280.43,959.76 L1280.52,957.76 L1280.61,955.77 L1280.69,953.77 L1280.78,951.77 L1280.87,949.77 L1280.96,947.77 L1281.04,945.78 L1281.13,943.78 L1281.22,941.78 L1281.3,939.78 L1281.39,937.78 L1281.48,935.78 L1281.56,933.79 L1281.65,931.79 L1281.73,929.79 L1281.82,927.79 L1281.91,925.79 L1281.99,923.8 L1282.08,921.8 L1282.16,919.8 L1282.25,917.8 L1282.34,915.8 L1282.42,913.8 L1282.51,911.81 L1282.59,909.81 L1282.68,907.81 L1282.76,905.81 L1282.85,903.81 L1282.93,901.82 L1283.02,899.82 L1283.1,897.82 L1283.19,895.82 L1283.27,893.82 L1283.35,891.82 L1283.44,889.83 L1283.52,887.83 L1283.61,885.83 L1283.69,883.83 L1283.78,881.83 L1283.86,879.84 L1283.94,877.84 L1284.03,875.84 L1284.11,873.84 L1284.2,871.84 L1284.28,869.84 L1284.36,867.85 L1284.45,865.85 L1284.53,863.85 L1284.62,861.85 L1284.7,859.85 L1284.78,857.85 L1284.87,855.86 L1284.95,853.86 L1285.03,851.86 L1285.12,849.86 L1285.2,847.86 L1285.28,845.87 L1285.37,843.87 L1285.45,841.87 L1285.53,839.87 L1285.62,837.87 L1285.7,835.87 L1285.78,833.88 L1285.86,831.88 L1285.95,829.88 L1286.03,827.88 L1286.11,825.88 L1286.2,823.88 L1286.28,821.89 L1286.36,819.89 L1286.45,817.89 L1286.53,815.89 L1286.61,813.89 L1286.69,811.89 L1286.78,809.9 L1286.86,807.9 L1286.94,805.9 L1287.03,803.9 L1287.11,801.9 L1287.19,799.9 L1287.27,797.91 L1287.36,795.91 L1287.44,793.91 L1287.52,791.91 L1287.6,789.91 L1287.69,787.92 L1287.77,785.92 L1287.85,783.92 L1287.94,781.92 L1288.02,779.92 L1288.1,777.92 L1288.18,775.93 L1288.27,773.93 L1288.35,771.93 L1288.43,769.93 L1288.52,767.93 L1288.6,765.93 L1288.68,763.94 L1288.77,761.94 L1288.85,759.94 L1288.93,757.94 L1289.01,755.94 L1289.1,753.94 L1289.18,751.95 L1289.26,749.95 L1289.35,747.95 L1289.43,745.95 L1289.51,743.95 L1289.6,741.95 L1289.68,739.96 L1289.76,737.96 L1289.85,735.96 L1289.93,733.96 L1290.01,731.96 L1290.1,729.97 L1290.18,727.97 L1290.27,725.97 L1290.35,723.97 L1290.43,721.97 L1290.52,719.97 L1290.6,717.98 L1290.69,715.98 L1290.77,713.98 L1290.85,711.98 L1290.94,709.98 L1291.02,707.98 L1291.11,705.99 L1291.19,703.99 L1291.28,701.99 L1291.36,699.99 L1291.45,697.99 L1291.53,696 L1291.62,694 L1291.7,692 L1291.79,690 L1291.87,688 L1291.96,686 L1292.04,684.01 L1292.13,682.01 L1292.21,680.01 L1292.3,678.01 L1292.39,676.01 L1292.47,674.02 L1292.56,672.02 L1292.64,670.02 L1292.73,668.02 L1292.82,666.02 L1292.9,664.02 L1292.99,662.03 L1293.08,660.03 L1293.17,658.03 L1293.25,656.03 L1293.34,654.03 L1293.43,652.04 L1293.52,650.04 L1293.6,648.04 L1293.69,646.04 L1293.78,644.04 L1293.87,642.05 L1293.96,640.05 L1294.05,638.05 L1294.13,636.05 L1294.22,634.05 L1294.31,632.06 L1294.4,630.06 L1294.49,628.06 L1294.58,626.06 L1294.67,624.06 L1294.76,622.07 L1294.85,620.07 L1294.94,618.07 L1295.03,616.07 L1295.13,614.07 L1295.22,612.08 L1295.31,610.08 L1295.4,608.08 L1295.49,606.08 L1295.58,604.08 L1295.68,602.09 L1295.77,600.09 L1295.86,598.09 L1295.96,596.09 L1296.05,594.1 L1296.14,592.1 L1296.24,590.1 L1296.33,588.1 L1296.43,586.1 L1296.52,584.11 L1296.62,582.11 L1296.71,580.11 L1296.81,578.11 L1296.91,576.12 L1297,574.12 L1297.1,572.12 L1297.2,570.12 L1297.29,568.13 L1297.39,566.13 L1297.49,564.13 L1297.59,562.13 L1297.69,560.14 L1297.79,558.14 L1297.89,556.14 L1297.99,554.14 L1298.09,552.15 L1298.19,550.15 L1298.29,548.15 L1298.4,546.15 L1298.5,544.16 L1298.6,542.16 L1298.7,540.16 L1298.81,538.16 L1298.91,536.17 L1299.02,534.17 L1299.12,532.17 L1299.23,530.17 L1299.34,528.18 L1299.44,526.18 L1299.55,524.18 L1299.66,522.19 L1299.77,520.19 L1299.88,518.19 L1299.99,516.2 L1300.1,514.2 L1300.21,512.2 L1300.32,510.2 L1300.44,508.21 L1300.55,506.21 L1300.67,504.21 L1300.78,502.22 L1300.9,500.22 L1301.01,498.22 L1301.13,496.23 L1301.25,494.23 L1301.37,492.24 L1301.49,490.24 L1301.61,488.24 L1301.73,486.25 L1301.86,484.25 L1301.98,482.25 L1302.11,480.26 L1302.23,478.26 L1302.36,476.27 L1302.49,474.27 L1302.62,472.27 L1302.75,470.28 L1302.88,468.28 L1303.02,466.29 L1303.15,464.29 L1303.29,462.3 L1303.43,460.3 L1303.57,458.31 L1303.71,456.31 L1303.85,454.32 L1304,452.32 L1304.15,450.33 L1304.3,448.33 L1304.45,446.34 L1304.6,444.34 L1304.76,442.35 L1304.91,440.36 L1305.08,438.36 L1305.24,436.37 L1305.4,434.38 L1305.57,432.38 L1305.75,430.39 L1305.92,428.4 L1306.1,426.41 L1306.28,424.42 L1306.47,422.42 L1306.66,420.43 L1306.86,418.44 L1307.06,416.45 L1307.27,414.46 L1307.48,412.48 L1307.7,410.49 L1307.93,408.5 L1308.16,406.51 L1308.4,404.53 L1308.66,402.55 L1308.93,400.56 L1309.21,398.58 L1309.5,396.61 L1309.82,394.63 L1310.16,392.66 L1310.53,390.69 L1310.93,388.74 L1311.4,386.79 L1311.94,384.87 L1312.64,382.99 L1313.76,381.36 L1315.41,381.94 L1316.3,383.72 L1316.95,385.62 L1317.47,387.55 L1317.93,389.49 L1318.34,391.45 L1318.72,393.42 L1319.07,395.38 L1319.39,397.36 L1319.7,399.33 L1320,401.31 L1320.28,403.29 L1320.55,405.27 L1320.81,407.26 L1321.07,409.24 L1321.31,411.23 L1321.55,413.21 L1321.78,415.2 L1322,417.19 L1322.22,419.17 L1322.44,421.16 L1322.65,423.15 L1322.85,425.14 L1323.06,427.13 L1323.25,429.12 L1323.45,431.11 L1323.64,433.1 L1323.83,435.09 L1324.02,437.08 L1324.2,439.07 L1324.38,441.07 L1324.56,443.06 L1324.73,445.05 L1324.91,447.04 L1325.08,449.04 L1325.25,451.03 L1325.41,453.02 L1325.58,455.02 L1325.74,457.01 L1325.91,459 L1326.07,461 L1326.23,462.99 L1326.38,464.98 L1326.54,466.98 L1326.69,468.97 L1326.85,470.96 L1327,472.96 L1327.15,474.95 L1327.3,476.95 L1327.45,478.94 L1327.6,480.94 L1327.74,482.93 L1327.89,484.93 L1328.03,486.92 L1328.18,488.92 L1328.32,490.91 L1328.46,492.91 L1328.6,494.9 L1328.74,496.9 L1328.88,498.89 L1329.02,500.89 L1329.16,502.88 L1329.29,504.88 L1329.43,506.87 L1329.56,508.87 L1329.7,510.86 L1329.83,512.86 L1329.96,514.85 L1330.1,516.85 L1330.23,518.85 L1330.36,520.84 L1330.49,522.84 L1330.62,524.83 L1330.75,526.83 L1330.88,528.82 L1331.01,530.82 L1331.14,532.82 L1331.26,534.81 L1331.39,536.81 L1331.52,538.8 L1331.64,540.8 L1331.77,542.8 L1331.89,544.79 L1332.02,546.79 L1332.14,548.78 L1332.27,550.78 L1332.39,552.78 L1332.51,554.77 L1332.64,556.77 L1332.76,558.77 L1332.88,560.76 L1333,562.76 L1333.12,564.75 L1333.24,566.75 L1333.36,568.75 L1333.48,570.74 L1333.6,572.74 L1333.72,574.74 L1333.84,576.73 L1333.96,578.73 L1334.08,580.73 L1334.2,582.72 L1334.32,584.72 L1334.43,586.72 L1334.55,588.71 L1334.67,590.71 L1334.79,592.7 L1334.9,594.7 L1335.02,596.7 L1335.13,598.69 L1335.25,600.69 L1335.37,602.69 L1335.48,604.68 L1335.6,606.68 L1335.71,608.68 L1335.83,610.67 L1335.94,612.67 L1336.06,614.67 L1336.17,616.66 L1336.29,618.66 L1336.4,620.66 L1336.51,622.65 L1336.63,624.65 L1336.74,626.65 L1336.85,628.65 L1336.97,630.64 L1337.08,632.64 L1337.19,634.64 L1337.3,636.63 L1337.42,638.63 L1337.53,640.63 L1337.64,642.62 L1337.75,644.62 L1337.87,646.62 L1337.98,648.61 L1338.09,650.61 L1338.2,652.61 L1338.31,654.6 L1338.42,656.6 L1338.54,658.6 L1338.65,660.59 L1338.76,662.59 L1338.87,664.59 L1338.98,666.59 L1339.09,668.58 L1339.2,670.58 L1339.31,672.58 L1339.42,674.57 L1339.53,676.57 L1339.64,678.57 L1339.75,680.56 L1339.86,682.56 L1339.97,684.56 L1340.08,686.56 L1340.19,688.55 L1340.3,690.55 L1340.41,692.55 L1340.52,694.54 L1340.63,696.54 L1340.74,698.54 L1340.85,700.53 L1340.96,702.53 L1341.07,704.53 L1341.18,706.53 L1341.29,708.52 L1341.4,710.52 L1341.51,712.52 L1341.62,714.51 L1341.73,716.51 L1341.84,718.51 L1341.95,720.5 L1342.06,722.5 L1342.17,724.5 L1342.28,726.5 L1342.39,728.49 L1342.49,730.49 L1342.6,732.49 L1342.71,734.48 L1342.82,736.48 L1342.93,738.48 L1343.04,740.47 L1343.15,742.47 L1343.26,744.47 L1343.37,746.47 L1343.48,748.46 L1343.59,750.46 L1343.7,752.46 L1343.81,754.45 L1343.92,756.45 L1344.03,758.45 L1344.14,760.44 L1344.25,762.44 L1344.36,764.44 L1344.47,766.44 L1344.58,768.43 L1344.69,770.43 L1344.8,772.43 L1344.91,774.42 L1345.02,776.42 L1345.13,778.42 L1345.24,780.41 L1345.35,782.41 L1345.46,784.41 L1345.57,786.4 L1345.68,788.4 L1345.79,790.4 L1345.9,792.4 L1346.01,794.39 L1346.12,796.39 L1346.23,798.39 L1346.34,800.38 L1346.45,802.38 L1346.56,804.38 L1346.67,806.37 L1346.78,808.37 L1346.89,810.37 L1347.01,812.36 L1347.12,814.36 L1347.23,816.36 L1347.34,818.36 L1347.45,820.35 L1347.56,822.35 L1347.68,824.35 L1347.79,826.34 L1347.9,828.34 L1348.01,830.34 L1348.12,832.33 L1348.24,834.33 L1348.35,836.33 L1348.46,838.32 L1348.57,840.32 L1348.69,842.32 L1348.8,844.31 L1348.91,846.31 L1349.03,848.31 L1349.14,850.3 L1349.25,852.3 L1349.37,854.3 L1349.48,856.3 L1349.6,858.29 L1349.71,860.29 L1349.82,862.29 L1349.94,864.28 L1350.05,866.28 L1350.17,868.28 L1350.28,870.27 L1350.4,872.27 L1350.51,874.27 L1350.63,876.26 L1350.74,878.26 L1350.86,880.26 L1350.98,882.25 L1351.09,884.25 L1351.21,886.25 L1351.33,888.24 L1351.44,890.24 L1351.56,892.24 L1351.68,894.23 L1351.79,896.23 L1351.91,898.22 L1352.03,900.22 L1352.15,902.22 L1352.27,904.21 L1352.38,906.21 L1352.5,908.21 L1352.62,910.2 L1352.74,912.2 L1352.86,914.2 L1352.98,916.19 L1353.1,918.19 L1353.22,920.19 L1353.34,922.18 L1353.46,924.18 L1353.58,926.18 L1353.7,928.17 L1353.82,930.17 L1353.94,932.16 L1354.07,934.16 L1354.19,936.16 L1354.31,938.15 L1354.43,940.15 L1354.55,942.15 L1354.68,944.14 L1354.8,946.14 L1354.92,948.13 L1355.05,950.13 L1355.17,952.13 L1355.3,954.12 L1355.42,956.12 L1355.55,958.11 L1355.67,960.11 L1355.8,962.11 L1355.92,964.1 L1356.05,966.1 L1356.18,968.09 L1356.3,970.09 L1356.43,972.09 L1356.56,974.08 L1356.69,976.08 L1356.82,978.07 L1356.94,980.07 L1357.07,982.07 L1357.2,984.06 L1357.33,986.06 L1357.46,988.05 L1357.59,990.05 L1357.72,992.04 L1357.85,994.04 L1357.99,996.04 L1358.12,998.03 L1358.25,1000.03 L1358.38,1002.02 L1358.52,1004.02 L1358.65,1006.01 L1358.78,1008.01 L1358.92,1010.01 L1359.05,1012 L1359.19,1014 L1359.32,1015.99 L1359.46,1017.99 L1359.6,1019.98 L1359.73,1021.98 L1359.87,1023.97 L1360.01,1025.97 L1360.15,1027.96 L1360.29,1029.96 L1360.42,1031.95 L1360.56,1033.95 L1360.7,1035.94 L1360.85,1037.94 L1360.99,1039.93 L1361.13,1041.93 L1361.27,1043.92 L1361.41,1045.92 L1361.56,1047.91 L1361.7,1049.91 L1361.84,1051.9 L1361.99,1053.9 L1362.13,1055.89 L1362.28,1057.89 L1362.43,1059.88 L1362.57,1061.88 L1362.72,1063.87 L1362.87,1065.87 L1363.02,1067.86 L1363.17,1069.85 L1363.32,1071.85 L1363.47,1073.84 L1363.62,1075.84 L1363.77,1077.83 L1363.92,1079.83 L1364.07,1081.82 L1364.23,1083.81 L1364.38,1085.81 L1364.54,1087.8 L1364.69,1089.8 L1364.85,1091.79 L1365.01,1093.78 L1365.16,1095.78 L1365.32,1097.77 L1365.48,1099.76 L1365.64,1101.76 L1365.8,1103.75 L1365.96,1105.75 L1366.12,1107.74 L1366.29,1109.73 L1366.45,1111.73 L1366.61,1113.72 L1366.78,1115.71 L1366.95,1117.71 L1367.11,1119.7 L1367.28,1121.69 L1367.45,1123.68 L1367.62,1125.68 L1367.79,1127.67 L1367.96,1129.66 L1368.13,1131.66 L1368.3,1133.65 L1368.47,1135.64 L1368.65,1137.63 L1368.82,1139.62 L1369,1141.62 L1369.18,1143.61 L1369.36,1145.6 L1369.53,1147.59 L1369.71,1149.59 L1369.89,1151.58 L1370.08,1153.57 L1370.26,1155.56 L1370.44,1157.55 L1370.63,1159.54 L1370.81,1161.53 L1371,1163.53 L1371.19,1165.52 L1371.38,1167.51 L1371.57,1169.5 L1371.76,1171.49 L1371.95,1173.48 L1372.15,1175.47 L1372.34,1177.46 L1372.54,1179.45 L1372.73,1181.44 L1372.93,1183.43 L1373.13,1185.42 L1373.33,1187.41 L1373.53,1189.4 L1373.74,1191.39 L1373.94,1193.38 L1374.15,1195.37 L1374.35,1197.36 L1374.56,1199.35 L1374.77,1201.34 L1374.98,1203.33 L1375.2,1205.32 L1375.41,1207.3 L1375.62,1209.29 L1375.84,1211.28 L1376.06,1213.27 L1376.28,1215.26 L1376.5,1217.24 L1376.72,1219.23 L1376.95,1221.22 L1377.17,1223.21 L1377.4,1225.19 L1377.63,1227.18 L1377.86,1229.17 L1378.09,1231.15 L1378.33,1233.14 L1378.56,1235.13 L1378.8,1237.11 L1379.04,1239.1 L1379.28,1241.08 L1379.52,1243.07 L1379.76,1245.05 L1380.01,1247.04 L1380.26,1249.02 L1380.51,1251.01 L1380.76,1252.99 L1381.01,1254.98 L1381.27,1256.96 L1381.52,1258.94 L1381.78,1260.93 L1382.04,1262.91 L1382.31,1264.89 L1382.57,1266.87 L1382.84,1268.86 L1383.11,1270.84 L1383.38,1272.82 L1383.66,1274.8 L1383.93,1276.78 L1384.21,1278.76 L1384.49,1280.74 L1384.77,1282.72 L1385.06,1284.7 L1385.34,1286.68 L1385.63,1288.66 L1385.92,1290.64 L1386.22,1292.62 L1386.52,1294.59 L1386.81,1296.57 L1387.12,1298.55 L1387.42,1300.53 L1387.73,1302.5 L1388.04,1304.48 L1388.35,1306.45 L1388.66,1308.43 L1388.98,1310.4 L1389.3,1312.38 L1389.62,1314.35 L1389.95,1316.32 L1390.27,1318.3 L1390.6,1320.27 L1390.94,1322.24 L1391.28,1324.21 L1391.61,1326.18 L1391.96,1328.15 L1392.3,1330.12 L1392.65,1332.09 L1393,1334.06 L1393.36,1336.03 L1393.72,1338 L1394.08,1339.97 L1394.44,1341.93 L1394.81,1343.9 L1395.18,1345.86 L1395.56,1347.83 L1395.93,1349.79 L1396.32,1351.76 L1396.7,1353.72 L1397.09,1355.68 L1397.48,1357.64 L1397.88,1359.6 L1398.28,1361.56 L1398.68,1363.52 L1399.09,1365.48 L1399.5,1367.44 L1399.92,1369.39 L1400.34,1371.35 L1400.76,1373.3 L1401.19,1375.25 L1401.62,1377.21 L1402.06,1379.16 L1402.5,1381.11 L1402.95,1383.06 L1403.4,1385.01 L1403.85,1386.96 L1404.31,1388.9 L1404.78,1390.85 L1405.25,1392.79 L1405.73,1394.73 L1406.21,1396.67 L1406.69,1398.61 L1407.19,1400.55 L1407.69,1402.49 L1408.19,1404.42 L1408.7,1406.36 L1409.22,1408.29 L1409.74,1410.22 L1410.27,1412.15 L1410.81,1414.08 L1411.35,1416 L1411.9,1417.92 L1412.46,1419.84 L1413.03,1421.76 L1413.6,1423.68 L1414.18,1425.59 L1414.77,1427.5 L1415.37,1429.41 L1415.98,1431.31 L1416.6,1433.22 L1417.23,1435.12 L1417.87,1437.01 L1418.52,1438.9 L1419.18,1440.79 L1419.85,1442.67 L1420.53,1444.55 L1421.23,1446.43 L1421.94,1448.3 L1422.66,1450.16 L1423.39,1452.02 L1424.15,1453.88 L1424.91,1455.72 L1425.69,1457.57 L1426.49,1459.4 L1427.31,1461.22 L1428.14,1463.04 L1429,1464.85 L1429.87,1466.65 L1430.77,1468.44 L1431.69,1470.21 L1432.63,1471.98 L1433.59,1473.73 L1434.58,1475.47 L1435.59,1477.19 L1436.64,1478.9 L1437.71,1480.59 L1438.81,1482.26 L1439.94,1483.91 L1441.1,1485.54 L1442.29,1487.14 L1443.52,1488.72 L1444.78,1490.27 L1446.08,1491.79 L1447.41,1493.29 L1448.78,1494.75 L1450.18,1496.17 L1451.62,1497.56 L1453.1,1498.91 L1454.6,1500.23 L1456.14,1501.5 L1457.72,1502.73 L1457.77,1502.78 L1457.81,1502.82 L1457.85,1502.85 L1457.88,1502.89 L1457.93,1502.94 L1458,1503 L1458.09,1503.08 L1458.23,1503.18 L1458.41,1503.32 L1458.65,1503.48 L1458.95,1503.68 L1459.32,1503.93 L1459.75,1504.22 L1460.22,1504.55 L1460.72,1504.92 L1461.26,1505.32 L1461.85,1505.74 L1462.49,1506.19 L1463.19,1506.67 L1463.95,1507.16 L1464.78,1507.66 L1465.67,1508.17 L1466.65,1508.68 L1467.7,1509.2 L1468.85,1509.73 L1470.09,1510.28 L1471.42,1510.84 L1472.83,1511.43 L1474.3,1512.02 L1475.83,1512.63 L1477.4,1513.24 L1479.01,1513.86 L1480.65,1514.48 L1482.3,1515.09 L1483.95,1515.7 L1485.6,1516.3 L1487.23,1516.91 L1488.85,1517.53 L1490.47,1518.16 L1492.1,1518.79 L1493.76,1519.43 L1495.45,1520.06 L1497.19,1520.69 L1499,1521.3 L1500.88,1521.89 L1502.85,1522.46 L1504.92,1522.99 L1507.1,1523.5 L1509.4,1523.98 L1511.82,1524.46 L1514.33,1524.92 L1516.93,1525.37 L1519.61,1525.79 L1522.35,1526.2 L1525.14,1526.58 L1527.97,1526.93 L1530.82,1527.25 L1533.68,1527.54 L1536.55,1527.79 L1539.4,1528 L1542.29,1528.16 L1545.26,1528.28 L1548.29,1528.36 L1551.37,1528.4 L1554.47,1528.41 L1557.58,1528.39 L1560.67,1528.36 L1563.73,1528.3 L1566.75,1528.23 L1569.69,1528.16 L1572.55,1528.08 L1575.3,1528 L1577.97,1527.89 L1580.6,1527.73 L1583.19,1527.53 L1585.73,1527.3 L1588.22,1527.06 L1590.66,1526.82 L1593.04,1526.59 L1595.36,1526.4 L1597.62,1526.25 L1599.82,1526.16 L1601.94,1526.14 L1604,1526.2 L1606.02,1526.37 L1608.04,1526.64 L1610.04,1526.99 L1611.99,1527.4 L1613.88,1527.86 L1615.69,1528.34 L1617.4,1528.82 L1619,1529.3 L1620.45,1529.74 L1621.75,1530.14 L1622.87,1530.46 L1623.8,1530.7" fill="none" stroke="#EC00CC" stroke-width="7" stroke-linejoin="round" stroke-linecap="round"/>
<path d="M430.39,1162.73 L432.26,1162.02 L434.22,1161.59 L436.22,1161.51 L438.19,1161.84 L440.06,1162.55 L441.77,1163.59 L443.3,1164.88 L444.68,1166.33 L445.92,1167.9 L447.04,1169.56 L448.07,1171.28 L449.03,1173.04 L449.92,1174.83 L450.76,1176.65 L451.56,1178.48 L452.33,1180.34 L453.07,1182.2 L453.78,1184.07 L454.49,1185.94 L455.18,1187.82 L455.87,1189.7 L456.54,1191.59 L457.21,1193.48 L457.88,1195.37 L458.53,1197.26 L459.18,1199.15 L459.83,1201.05 L460.46,1202.95 L461.1,1204.85 L461.73,1206.75 L462.35,1208.65 L462.98,1210.56 L463.6,1212.46 L464.22,1214.37 L464.83,1216.27 L465.45,1218.18 L466.07,1220.08 L466.69,1221.99 L467.31,1223.89 L467.94,1225.79 L468.56,1227.7 L469.2,1229.6 L469.83,1231.49 L470.48,1233.39 L471.13,1235.29 L471.79,1237.18 L472.45,1239.07 L473.12,1240.95 L473.8,1242.84 L474.49,1244.72 L475.18,1246.6 L475.88,1248.48 L476.59,1250.35 L477.3,1252.22 L478.02,1254.09 L478.75,1255.96 L479.49,1257.82 L480.23,1259.68 L480.98,1261.54 L481.73,1263.39 L482.5,1265.24 L483.27,1267.09 L484.04,1268.94 L484.83,1270.78 L485.62,1272.62 L486.42,1274.46 L487.22,1276.29 L488.03,1278.13 L488.85,1279.96 L489.67,1281.78 L490.5,1283.6 L491.33,1285.42 L492.18,1287.24 L493.03,1289.06 L493.88,1290.87 L494.74,1292.68 L495.61,1294.48 L496.48,1296.29 L497.36,1298.09 L498.24,1299.88 L499.13,1301.68 L500.03,1303.47 L500.93,1305.26 L501.83,1307.04 L502.74,1308.83 L503.66,1310.61 L504.58,1312.39 L505.51,1314.16 L506.44,1315.94 L507.38,1317.71 L508.32,1319.47 L509.27,1321.24 L510.22,1323 L511.18,1324.76 L512.14,1326.52 L513.11,1328.27 L514.08,1330.02 L515.07,1331.76 L516.08,1333.49 L517.1,1335.22 L518.13,1336.93 L519.19,1338.63 L520.28,1340.32 L521.38,1341.98 L522.52,1343.63 L523.69,1345.26 L524.89,1346.86 L526.13,1348.44 L527.41,1349.98 L528.74,1351.48 L530.1,1352.94 L531.52,1354.35 L532.99,1355.72 L534.52,1357.01 L536.1,1358.25 L537.73,1359.4 L539.42,1360.47 L541.17,1361.45 L542.97,1362.33 L544.82,1363.11 L546.71,1363.77 L548.63,1364.33 L550.58,1364.78 L552.55,1365.14 L554.54,1365.4 L556.53,1365.56 L558.54,1365.63 L560.54,1365.62 L562.54,1365.52 L564.53,1365.34 L566.52,1365.07 L568.49,1364.73 L570.45,1364.31 L572.39,1363.81 L574.31,1363.24 L576.21,1362.6 L578.07,1361.88 L579.91,1361.08 L581.72,1360.22 L583.49,1359.28 L585.22,1358.27 L586.91,1357.2 L588.57,1356.08 L590.19,1354.89 L591.77,1353.66 L593.31,1352.39 L594.82,1351.07 L596.3,1349.72 L597.75,1348.34 L599.17,1346.93 L600.56,1345.49 L601.93,1344.03 L603.28,1342.54 L604.61,1341.05 L605.92,1339.53 L607.22,1338.01 L608.5,1336.47 L609.78,1334.93 L611.05,1333.38 L612.31,1331.82 L613.57,1330.26 L614.83,1328.7 L616.09,1327.15 L617.35,1325.59 L618.62,1324.04 L619.89,1322.5 L621.18,1320.96 L622.48,1319.44 L623.8,1317.93 L625.13,1316.44 L626.49,1314.96 L627.87,1313.51 L629.28,1312.09 L630.72,1310.69 L632.19,1309.33 L633.69,1308.02 L635.24,1306.74 L636.82,1305.52 L638.45,1304.35 L640.13,1303.25 L641.85,1302.23 L643.63,1301.32 L645.48,1300.54 L647.39,1299.94 L649.35,1299.56 L651.35,1299.42 L653.35,1299.53 L655.33,1299.85 L657.26,1300.35 L659.16,1301.01 L661,1301.79 L662.79,1302.69 L664.53,1303.68 L666.22,1304.75 L667.86,1305.91 L669.45,1307.13 L670.98,1308.41 L672.47,1309.75 L673.91,1311.15 L675.29,1312.6 L676.62,1314.09 L677.91,1315.63 L679.15,1317.2 L680.34,1318.81 L681.49,1320.45 L682.6,1322.12 L683.68,1323.81 L684.72,1325.52 L685.73,1327.24 L686.72,1328.99 L687.68,1330.74 L688.63,1332.51 L689.55,1334.29 L690.47,1336.07 L691.37,1337.85 L692.27,1339.65 L693.17,1341.44 L694.06,1343.23 L694.96,1345.02 L695.86,1346.81 L696.76,1348.6 L697.66,1350.39 L698.57,1352.17 L699.48,1353.95 L700.4,1355.74 L701.32,1357.51 L702.25,1359.29 L703.18,1361.06 L704.12,1362.83 L705.07,1364.59 L706.03,1366.35 L706.99,1368.11 L707.97,1369.86 L708.96,1371.6 L709.95,1373.34 L710.96,1375.07 L711.98,1376.79 L713.01,1378.51 L714.06,1380.22 L715.12,1381.92 L716.19,1383.61 L717.28,1385.29 L718.39,1386.96 L719.51,1388.62 L720.65,1390.27 L721.8,1391.9 L722.97,1393.53 L724.17,1395.13 L725.38,1396.73 L726.61,1398.31 L727.86,1399.87 L729.13,1401.42 L730.42,1402.95 L731.74,1404.46 L733.07,1405.96 L734.43,1407.43 L735.8,1408.89 L737.19,1410.33 L738.6,1411.76 L740.02,1413.17 L741.46,1414.56 L742.92,1415.93 L744.4,1417.29 L745.88,1418.63 L747.39,1419.95 L748.9,1421.26 L750.43,1422.55 L751.97,1423.83 L753.53,1425.1 L755.09,1426.35 L756.67,1427.58 L758.25,1428.81 L759.85,1430.02 L761.46,1431.21 L763.07,1432.4 L764.7,1433.57 L766.33,1434.73 L767.97,1435.88 L769.61,1437.02 L771.27,1438.15 L772.93,1439.27 L774.6,1440.38 L776.27,1441.48 L777.95,1442.57 L779.63,1443.66 L781.32,1444.74 L783.01,1445.81 L784.71,1446.87 L786.41,1447.93 L788.12,1448.98 L789.82,1450.03 L791.54,1451.07 L793.25,1452.1 L794.97,1453.14 L796.68,1454.17 L798.4,1455.19 L800.13,1456.21 L801.85,1457.23 L803.57,1458.25 L805.3,1459.27 L807.03,1460.29 L808.75,1461.3 L810.48,1462.32 L812.21,1463.33 L813.93,1464.35 L815.66,1465.37 L817.38,1466.39 L819.1,1467.41 L820.83,1468.43 L822.55,1469.46 L824.26,1470.49 L825.98,1471.52 L827.69,1472.56 L829.4,1473.6 L831.11,1474.65 L832.82,1475.7 L834.52,1476.76 L836.21,1477.82 L837.9,1478.89 L839.59,1479.97 L841.28,1481.05 L842.96,1482.14 L844.64,1483.23 L846.32,1484.32 L848,1485.41 L849.68,1486.5 L851.36,1487.59 L853.04,1488.68 L854.72,1489.77 L856.41,1490.86 L858.09,1491.93 L859.78,1493.01 L861.48,1494.08 L863.18,1495.14 L864.88,1496.19 L866.59,1497.23 L868.31,1498.27 L870.03,1499.29 L871.76,1500.3 L873.5,1501.29 L875.25,1502.27 L877,1503.24 L878.77,1504.18 L880.54,1505.11 L882.32,1506.02 L884.12,1506.91 L885.92,1507.78 L887.74,1508.63 L889.57,1509.45 L891.4,1510.25 L893.25,1511.02 L895.11,1511.76 L896.98,1512.48 L898.86,1513.17 L900.75,1513.83 L902.65,1514.46 L904.56,1515.07 L906.48,1515.66 L908.4,1516.22 L910.33,1516.76 L912.26,1517.27 L914.2,1517.77 L916.15,1518.24 L918.1,1518.7 L920.06,1519.14 L922.01,1519.55 L923.98,1519.96 L925.94,1520.34 L927.91,1520.71 L929.88,1521.06 L931.86,1521.41 L933.83,1521.73 L935.81,1522.05 L937.79,1522.35 L939.77,1522.64 L941.76,1522.92 L943.74,1523.19 L945.73,1523.46 L947.71,1523.71 L949.7,1523.96 L951.69,1524.2 L953.68,1524.43 L955.67,1524.66 L957.66,1524.88 L959.65,1525.1 L961.64,1525.32 L963.63,1525.53 L965.62,1525.74 L967.62,1525.95 L969.61,1526.16 L971.6,1526.36 L973.59,1526.57 L975.59,1526.77 L977.58,1526.98 L979.57,1527.18 L981.56,1527.38 L983.56,1527.58 L985.55,1527.78 L987.54,1527.97 L989.54,1528.17 L991.53,1528.36 L993.52,1528.55 L995.52,1528.74 L997.51,1528.92 L999.51,1529.11 L1001.5,1529.29 L1003.5,1529.47 L1005.49,1529.64 L1007.49,1529.82 L1009.48,1529.99 L1011.48,1530.16 L1013.47,1530.32 L1015.47,1530.49 L1017.47,1530.65 L1019.46,1530.8 L1021.46,1530.96 L1023.46,1531.11 L1025.46,1531.25 L1027.45,1531.39 L1029.45,1531.53 L1031.45,1531.67 L1033.45,1531.8 L1035.45,1531.93 L1037.45,1532.05 L1039.45,1532.17 L1041.45,1532.29 L1043.45,1532.4 L1045.45,1532.51 L1047.45,1532.61 L1049.45,1532.71 L1051.45,1532.81 L1053.45,1532.9 L1055.45,1532.98 L1057.45,1533.07 L1059.45,1533.14 L1061.45,1533.21 L1063.46,1533.28 L1065.46,1533.34 L1067.46,1533.4 L1069.46,1533.45 L1071.47,1533.49 L1073.47,1533.53 L1075.47,1533.57 L1077.47,1533.6 L1079.48,1533.63 L1081.48,1533.64 L1083.48,1533.66 L1085.48,1533.67 L1087.49,1533.67 L1089.49,1533.67 L1091.49,1533.66 L1093.5,1533.64 L1095.5,1533.62 L1097.5,1533.6 L1099.5,1533.57 L1101.51,1533.53 L1103.51,1533.48" fill="none" stroke="#EB3000" stroke-width="7.0" stroke-linejoin="round" stroke-linecap="round"/>
<path d="M1274.3,1531.5 L1275.53,1531.41 L1277.05,1531.31 L1278.82,1531.19 L1280.8,1531.05 L1282.97,1530.9 L1285.27,1530.74 L1287.69,1530.57 L1290.16,1530.4 L1292.67,1530.22 L1295.17,1530.04 L1297.63,1529.87 L1300,1529.7 L1302.38,1529.53 L1304.87,1529.36 L1307.43,1529.18 L1310.05,1529 L1312.7,1528.82 L1315.36,1528.64 L1317.99,1528.45 L1320.58,1528.26 L1323.1,1528.07 L1325.53,1527.88 L1327.84,1527.69 L1330,1527.5 L1332.02,1527.31 L1333.91,1527.12 L1335.7,1526.93 L1337.41,1526.74 L1339.04,1526.55 L1340.62,1526.36 L1342.17,1526.16 L1343.7,1525.96 L1345.23,1525.75 L1346.78,1525.54 L1348.37,1525.33 L1350,1525.1 L1351.68,1524.87 L1353.39,1524.62 L1355.12,1524.37 L1356.85,1524.12 L1358.59,1523.86 L1360.31,1523.59 L1362.02,1523.33 L1363.7,1523.06 L1365.35,1522.79 L1366.96,1522.52 L1368.51,1522.26 L1370,1522 L1371.43,1521.75 L1372.79,1521.52 L1374.1,1521.29 L1375.37,1521.07 L1376.6,1520.86 L1377.81,1520.63 L1379,1520.4 L1380.19,1520.15 L1381.37,1519.88 L1382.56,1519.58 L1383.77,1519.26 L1385,1518.9 L1386.25,1518.52 L1387.51,1518.15 L1388.77,1517.77 L1390.03,1517.37 L1391.3,1516.95 L1392.56,1516.51 L1393.81,1516.04 L1395.07,1515.52 L1396.31,1514.95 L1397.55,1514.33 L1398.78,1513.65 L1400,1512.9 L1401.21,1512.09 L1402.43,1511.23 L1403.65,1510.33 L1404.86,1509.37 L1406.07,1508.37 L1407.26,1507.33 L1408.45,1506.23 L1409.62,1505.08 L1410.77,1503.89 L1411.91,1502.64 L1413.02,1501.35 L1414.1,1500 L1415.17,1498.57 L1416.24,1497.02 L1417.3,1495.39 L1418.35,1493.69 L1419.38,1491.94 L1420.39,1490.16 L1421.37,1488.37 L1422.32,1486.59 L1423.23,1484.84 L1424.1,1483.15 L1424.93,1481.53 L1425.7,1480 L1426.43,1478.51 L1427.12,1477.01 L1427.78,1475.51 L1428.4,1474.03 L1428.98,1472.57 L1429.53,1471.17 L1430.04,1469.83 L1430.51,1468.57 L1430.94,1467.4 L1431.33,1466.34 L1431.69,1465.4 L1432,1464.61 L1432.26,1463.97 L1432.45,1463.49 L1432.59,1463.15 L1432.68,1462.91 L1432.73,1462.78 L1432.75,1462.71 L1432.75,1462.7 L1432.74,1462.72 L1432.72,1462.76 L1432.71,1462.79 L1432.7,1462.79 L1432.72,1462.74 L1433.43,1460.87 L1434.12,1458.99 L1434.79,1457.11 L1435.45,1455.22 L1436.1,1453.33 L1436.73,1451.43 L1437.35,1449.53 L1437.96,1447.63 L1438.56,1445.72 L1439.14,1443.8 L1439.72,1441.89 L1440.28,1439.97 L1440.84,1438.05 L1441.38,1436.12 L1441.92,1434.2 L1442.44,1432.27 L1442.96,1430.34 L1443.47,1428.4 L1443.97,1426.47 L1444.46,1424.53 L1444.95,1422.59 L1445.43,1420.64 L1445.9,1418.7 L1446.36,1416.76 L1446.82,1414.81 L1447.27,1412.86 L1447.71,1410.91 L1448.15,1408.96 L1448.58,1407.01 L1449.01,1405.05 L1449.43,1403.1 L1449.84,1401.14 L1450.25,1399.18 L1450.66,1397.22 L1451.06,1395.26 L1451.45,1393.3 L1451.84,1391.34 L1452.23,1389.38 L1452.61,1387.42 L1452.98,1385.45 L1453.35,1383.49 L1453.72,1381.52 L1454.08,1379.55 L1454.44,1377.59 L1454.8,1375.62 L1455.15,1373.65 L1455.49,1371.68 L1455.84,1369.71 L1456.18,1367.74 L1456.51,1365.77 L1456.85,1363.79 L1457.17,1361.82 L1457.5,1359.85 L1457.82,1357.87 L1458.14,1355.9 L1458.46,1353.92 L1458.77,1351.95 L1459.08,1349.97 L1459.39,1348 L1459.69,1346.02 L1459.99,1344.04 L1460.29,1342.07 L1460.59,1340.09 L1460.88,1338.11 L1461.17,1336.13 L1461.46,1334.15 L1461.75,1332.17 L1462.03,1330.19 L1462.31,1328.21 L1462.59,1326.23 L1462.86,1324.25 L1463.14,1322.27 L1463.41,1320.29 L1463.67,1318.3 L1463.94,1316.32 L1464.21,1314.34 L1464.47,1312.36 L1464.73,1310.37 L1464.99,1308.39 L1465.24,1306.41 L1465.49,1304.42 L1465.75,1302.44 L1466,1300.46 L1466.24,1298.47 L1466.49,1296.49 L1466.73,1294.5 L1466.98,1292.52 L1467.22,1290.53 L1467.46,1288.54 L1467.69,1286.56 L1467.93,1284.57 L1468.16,1282.59 L1468.39,1280.6 L1468.62,1278.61 L1468.85,1276.63 L1469.08,1274.64 L1469.31,1272.65 L1469.53,1270.66 L1469.75,1268.68 L1469.97,1266.69 L1470.19,1264.7 L1470.41,1262.71 L1470.63,1260.72 L1470.84,1258.74 L1471.06,1256.75 L1471.27,1254.76 L1471.48,1252.77 L1471.69,1250.78 L1471.9,1248.79 L1472.1,1246.8 L1472.31,1244.81 L1472.51,1242.82 L1472.72,1240.83 L1472.92,1238.84 L1473.12,1236.85 L1473.32,1234.86 L1473.52,1232.87 L1473.71,1230.88 L1473.91,1228.89 L1474.1,1226.9 L1474.3,1224.91 L1474.49,1222.92 L1474.68,1220.93 L1474.87,1218.94 L1475.06,1216.95 L1475.25,1214.96 L1475.44,1212.97 L1475.62,1210.98 L1475.81,1208.98 L1475.99,1206.99 L1476.17,1205 L1476.36,1203.01 L1476.54,1201.02 L1476.72,1199.03 L1476.9,1197.03 L1477.07,1195.04 L1477.25,1193.05 L1477.43,1191.06 L1477.6,1189.06 L1477.78,1187.07 L1477.95,1185.08 L1478.12,1183.09 L1478.29,1181.09 L1478.47,1179.1 L1478.64,1177.11 L1478.81,1175.12 L1478.97,1173.12 L1479.14,1171.13 L1479.31,1169.14 L1479.47,1167.14 L1479.64,1165.15 L1479.8,1163.16 L1479.97,1161.16 L1480.13,1159.17 L1480.29,1157.18 L1480.45,1155.18 L1480.62,1153.19 L1480.78,1151.2 L1480.93,1149.2 L1481.09,1147.21 L1481.25,1145.22 L1481.41,1143.22 L1481.57,1141.23 L1481.72,1139.23 L1481.88,1137.24 L1482.03,1135.25 L1482.18,1133.25 L1482.34,1131.26 L1482.49,1129.26 L1482.64,1127.27 L1482.79,1125.28 L1482.94,1123.28 L1483.09,1121.29 L1483.24,1119.29 L1483.39,1117.3 L1483.54,1115.3 L1483.69,1113.31 L1483.84,1111.31 L1483.98,1109.32 L1484.13,1107.33 L1484.27,1105.33 L1484.42,1103.34 L1484.56,1101.34 L1484.71,1099.35 L1484.85,1097.35 L1484.99,1095.36 L1485.14,1093.36 L1485.28,1091.37 L1485.42,1089.37 L1485.56,1087.38 L1485.7,1085.38 L1485.84,1083.39 L1485.98,1081.39 L1486.12,1079.4 L1486.26,1077.4 L1486.39,1075.41 L1486.53,1073.41 L1486.67,1071.42 L1486.8,1069.42 L1486.94,1067.42 L1487.08,1065.43 L1487.21,1063.43 L1487.35,1061.44 L1487.48,1059.44 L1487.61,1057.45 L1487.75,1055.45 L1487.88,1053.46 L1488.01,1051.46 L1488.14,1049.46 L1488.28,1047.47 L1488.41,1045.47 L1488.54,1043.48 L1488.67,1041.48 L1488.8,1039.49 L1488.93,1037.49 L1489.06,1035.49 L1489.19,1033.5 L1489.32,1031.5 L1489.44,1029.51 L1489.57,1027.51 L1489.7,1025.52 L1489.83,1023.52 L1489.95,1021.52 L1490.08,1019.53 L1490.21,1017.53 L1490.33,1015.54 L1490.46,1013.54 L1490.58,1011.54 L1490.71,1009.55 L1490.83,1007.55 L1490.96,1005.55 L1491.08,1003.56 L1491.2,1001.56 L1491.33,999.57 L1491.45,997.57 L1491.57,995.57 L1491.69,993.58 L1491.82,991.58 L1491.94,989.58 L1492.06,987.59 L1492.18,985.59 L1492.3,983.6 L1492.42,981.6 L1492.54,979.6 L1492.66,977.61 L1492.78,975.61 L1492.9,973.61 L1493.02,971.62 L1493.14,969.62 L1493.26,967.62 L1493.38,965.63 L1493.49,963.63 L1493.61,961.64 L1493.73,959.64 L1493.85,957.64 L1493.96,955.65 L1494.08,953.65 L1494.2,951.65 L1494.32,949.66 L1494.43,947.66 L1494.55,945.66 L1494.66,943.67 L1494.78,941.67 L1494.89,939.67 L1495.01,937.68 L1495.12,935.68 L1495.24,933.68 L1495.35,931.69 L1495.47,929.69 L1495.58,927.69 L1495.7,925.7 L1495.81,923.7 L1495.92,921.7 L1496.04,919.71 L1496.15,917.71 L1496.26,915.71 L1496.38,913.71 L1496.49,911.72 L1496.6,909.72 L1496.71,907.72 L1496.82,905.73 L1496.94,903.73 L1497.05,901.73 L1497.16,899.74 L1497.27,897.74 L1497.38,895.74 L1497.49,893.75 L1497.6,891.75 L1497.72,889.75 L1497.83,887.76 L1497.94,885.76 L1498.05,883.76 L1498.16,881.76 L1498.27,879.77 L1498.38,877.77 L1498.49,875.77 L1498.6,873.78 L1498.71,871.78 L1498.82,869.78 L1498.92,867.79 L1499.03,865.79 L1499.14,863.79 L1499.25,861.79 L1499.36,859.8 L1499.47,857.8 L1499.58,855.8 L1499.69,853.81 L1499.79,851.81 L1499.9,849.81 L1500.01,847.81 L1500.12,845.82 L1500.23,843.82 L1500.33,841.82 L1500.44,839.83 L1500.55,837.83 L1500.66,835.83 L1500.76,833.84 L1500.87,831.84 L1500.98,829.84 L1501.09,827.84 L1501.19,825.85 L1501.3,823.85 L1501.41,821.85 L1501.51,819.86 L1501.62,817.86 L1501.73,815.86 L1501.83,813.86 L1501.94,811.87 L1502.05,809.87 L1502.15,807.87 L1502.26,805.88 L1502.37,803.88 L1502.47,801.88 L1502.58,799.88 L1502.69,797.89 L1502.79,795.89 L1502.9,793.89 L1503,791.89 L1503.11,789.9 L1503.22,787.9 L1503.32,785.9 L1503.43,783.91 L1503.53,781.91 L1503.64,779.91 L1503.75,777.91 L1503.85,775.92 L1503.96,773.92 L1504.06,771.92 L1504.17,769.93 L1504.27,767.93 L1504.38,765.93 L1504.49,763.93 L1504.59,761.94 L1504.7,759.94 L1504.8,757.94 L1504.91,755.95 L1505.01,753.95 L1505.12,751.95 L1505.23,749.95 L1505.33,747.96 L1505.44,745.96 L1505.54,743.96 L1505.65,741.96 L1505.76,739.97 L1505.86,737.97 L1505.97,735.97 L1506.07,733.98 L1506.18,731.98 L1506.28,729.98 L1506.39,727.98 L1506.5,725.99 L1506.6,723.99 L1506.71,721.99 L1506.82,720 L1506.92,718 L1507.03,716 L1507.13,714 L1507.24,712.01 L1507.35,710.01 L1507.45,708.01 L1507.56,706.02 L1507.67,704.02 L1507.77,702.02 L1507.88,700.02 L1507.99,698.03 L1508.09,696.03 L1508.2,694.03 L1508.31,692.04 L1508.42,690.04 L1508.52,688.04 L1508.63,686.04 L1508.74,684.05 L1508.84,682.05 L1508.95,680.05 L1509.06,678.06 L1509.17,676.06 L1509.28,674.06 L1509.38,672.06 L1509.49,670.07 L1509.6,668.07 L1509.71,666.07 L1509.82,664.08 L1509.93,662.08 L1510.04,660.08 L1510.14,658.09 L1510.25,656.09 L1510.36,654.09 L1510.47,652.09 L1510.58,650.1 L1510.69,648.1 L1510.8,646.1 L1510.91,644.11 L1511.02,642.11 L1511.13,640.11 L1511.24,638.12 L1511.35,636.12 L1511.46,634.12 L1511.58,632.12 L1511.69,630.13 L1511.8,628.13 L1511.91,626.13 L1512.02,624.14 L1512.13,622.14 L1512.25,620.14 L1512.36,618.15 L1512.47,616.15 L1512.58,614.15 L1512.7,612.16 L1512.81,610.16 L1512.92,608.16 L1513.04,606.17 L1513.15,604.17 L1513.26,602.17 L1513.38,600.18 L1513.49,598.18 L1513.61,596.18 L1513.72,594.19 L1513.84,592.19 L1513.95,590.19 L1514.07,588.2 L1514.18,586.2 L1514.3,584.2 L1514.41,582.21 L1514.53,580.21 L1514.65,578.21 L1514.76,576.22 L1514.88,574.22 L1515,572.22 L1515.12,570.23 L1515.23,568.23 L1515.35,566.23 L1515.47,564.24 L1515.59,562.24 L1515.71,560.24 L1515.83,558.25 L1515.95,556.25 L1516.07,554.25 L1516.19,552.26 L1516.31,550.26 L1516.43,548.26 L1516.55,546.27 L1516.67,544.27 L1516.79,542.28 L1516.91,540.28 L1517.03,538.28 L1517.15,536.29 L1517.28,534.29 L1517.4,532.29 L1517.52,530.3 L1517.65,528.3 L1517.77,526.31 L1517.9,524.31 L1518.02,522.31 L1518.15,520.32 L1518.27,518.32 L1518.4,516.33 L1518.53,514.33 L1518.65,512.33 L1518.78,510.34 L1518.91,508.34 L1519.04,506.35 L1519.17,504.35 L1519.3,502.35 L1519.43,500.36 L1519.56,498.36 L1519.7,496.37 L1519.83,494.37 L1519.96,492.38 L1520.1,490.38 L1520.24,488.39 L1520.37,486.39 L1520.51,484.4 L1520.65,482.4 L1520.79,480.41 L1520.93,478.41 L1521.08,476.42 L1521.22,474.42 L1521.37,472.43 L1521.52,470.43 L1521.67,468.44 L1521.82,466.44 L1521.97,464.45 L1522.13,462.46 L1522.28,460.46 L1522.44,458.47 L1522.61,456.47 L1522.77,454.48 L1522.94,452.49 L1523.11,450.5 L1523.28,448.5 L1523.46,446.51 L1523.64,444.52 L1523.82,442.53 L1524.01,440.54 L1524.2,438.55 L1524.4,436.56 L1524.6,434.57 L1524.8,432.58 L1525.02,430.59 L1525.23,428.6 L1525.46,426.61 L1525.69,424.62 L1525.92,422.64 L1526.17,420.65 L1526.42,418.67 L1526.68,416.69 L1526.95,414.71 L1527.23,412.72 L1527.52,410.75 L1527.83,408.77 L1528.14,406.79 L1528.47,404.82 L1528.82,402.85 L1529.18,400.88 L1529.56,398.92 L1529.96,396.96 L1530.39,395.01 L1530.86,393.06 L1531.37,391.13 L1531.94,389.21 L1532.59,387.32 L1533.4,385.49 L1534.54,383.86 L1536.35,383.69 L1537.56,385.25 L1538.39,387.08 L1539.04,388.97 L1539.6,390.89 L1540.1,392.82 L1540.55,394.77 L1540.97,396.73 L1541.36,398.69 L1541.73,400.65 L1542.08,402.62 L1542.41,404.59 L1542.73,406.57 L1543.04,408.54 L1543.34,410.52 L1543.63,412.5 L1543.91,414.48 L1544.18,416.46 L1544.44,418.45 L1544.7,420.43 L1544.95,422.41 L1545.2,424.4 L1545.44,426.38 L1545.67,428.37 L1545.91,430.36 L1546.13,432.34 L1546.36,434.33 L1546.58,436.32 L1546.8,438.31 L1547.01,440.29 L1547.22,442.28 L1547.43,444.27 L1547.63,446.26 L1547.84,448.25 L1548.04,450.24 L1548.23,452.23 L1548.43,454.22 L1548.62,456.21 L1548.81,458.2 L1549,460.2 L1549.19,462.19 L1549.38,464.18 L1549.56,466.17 L1549.74,468.16 L1549.92,470.15 L1550.1,472.14 L1550.28,474.14 L1550.46,476.13 L1550.63,478.12 L1550.81,480.11 L1550.98,482.11 L1551.15,484.1 L1551.32,486.09 L1551.49,488.08 L1551.66,490.08 L1551.82,492.07 L1551.99,494.06 L1552.15,496.06 L1552.32,498.05 L1552.48,500.04 L1552.64,502.04 L1552.8,504.03 L1552.96,506.02 L1553.12,508.02 L1553.28,510.01 L1553.44,512.01 L1553.6,514 L1553.75,515.99 L1553.91,517.99 L1554.06,519.98 L1554.22,521.97 L1554.37,523.97 L1554.52,525.96 L1554.68,527.96 L1554.83,529.95 L1554.98,531.95 L1555.13,533.94 L1555.28,535.93 L1555.43,537.93 L1555.58,539.92 L1555.73,541.92 L1555.88,543.91 L1556.03,545.91 L1556.17,547.9 L1556.32,549.9 L1556.47,551.89 L1556.61,553.88 L1556.76,555.88 L1556.9,557.87 L1557.05,559.87 L1557.19,561.86 L1557.34,563.86 L1557.48,565.85 L1557.63,567.85 L1557.77,569.84 L1557.91,571.84 L1558.05,573.83 L1558.2,575.83 L1558.34,577.82 L1558.48,579.82 L1558.62,581.81 L1558.76,583.81 L1558.9,585.8 L1559.04,587.8 L1559.19,589.79 L1559.33,591.79 L1559.47,593.78 L1559.61,595.78 L1559.75,597.77 L1559.88,599.77 L1560.02,601.76 L1560.16,603.76 L1560.3,605.75 L1560.44,607.75 L1560.58,609.74 L1560.72,611.74 L1560.86,613.73 L1560.99,615.73 L1561.13,617.73 L1561.27,619.72 L1561.41,621.72 L1561.55,623.71 L1561.68,625.71 L1561.82,627.7 L1561.96,629.7 L1562.09,631.69 L1562.23,633.69 L1562.37,635.68 L1562.51,637.68 L1562.64,639.67 L1562.78,641.67 L1562.92,643.66 L1563.05,645.66 L1563.19,647.65 L1563.33,649.65 L1563.46,651.65 L1563.6,653.64 L1563.73,655.64 L1563.87,657.63 L1564.01,659.63 L1564.14,661.62 L1564.28,663.62 L1564.42,665.61 L1564.55,667.61 L1564.69,669.6 L1564.82,671.6 L1564.96,673.59 L1565.1,675.59 L1565.23,677.58 L1565.37,679.58 L1565.51,681.58 L1565.64,683.57 L1565.78,685.57 L1565.91,687.56 L1566.05,689.56 L1566.19,691.55 L1566.32,693.55 L1566.46,695.54 L1566.6,697.54 L1566.73,699.53 L1566.87,701.53 L1567.01,703.52 L1567.14,705.52 L1567.28,707.51 L1567.42,709.51 L1567.55,711.51 L1567.69,713.5 L1567.83,715.5 L1567.96,717.49 L1568.1,719.49 L1568.24,721.48 L1568.38,723.48 L1568.51,725.47 L1568.65,727.47 L1568.79,729.46 L1568.93,731.46 L1569.06,733.45 L1569.2,735.45 L1569.34,737.44 L1569.48,739.44 L1569.62,741.43 L1569.76,743.43 L1569.89,745.42 L1570.03,747.42 L1570.17,749.42 L1570.31,751.41 L1570.45,753.41 L1570.59,755.4 L1570.73,757.4 L1570.87,759.39 L1571.01,761.39 L1571.15,763.38 L1571.29,765.38 L1571.43,767.37 L1571.57,769.37 L1571.71,771.36 L1571.85,773.36 L1571.99,775.35 L1572.13,777.35 L1572.27,779.34 L1572.41,781.34 L1572.56,783.33 L1572.7,785.33 L1572.84,787.32 L1572.98,789.32 L1573.12,791.31 L1573.27,793.31 L1573.41,795.3 L1573.55,797.3 L1573.7,799.29 L1573.84,801.29 L1573.98,803.28 L1574.13,805.28 L1574.27,807.27 L1574.41,809.27 L1574.56,811.26 L1574.7,813.25 L1574.85,815.25 L1574.99,817.24 L1575.14,819.24 L1575.28,821.23 L1575.43,823.23 L1575.58,825.22 L1575.72,827.22 L1575.87,829.21 L1576.02,831.21 L1576.16,833.2 L1576.31,835.2 L1576.46,837.19 L1576.61,839.18 L1576.75,841.18 L1576.9,843.17 L1577.05,845.17 L1577.2,847.16 L1577.35,849.16 L1577.5,851.15 L1577.65,853.15 L1577.8,855.14 L1577.95,857.13 L1578.1,859.13 L1578.25,861.12 L1578.4,863.12 L1578.55,865.11 L1578.7,867.11 L1578.86,869.1 L1579.01,871.09 L1579.16,873.09 L1579.31,875.08 L1579.47,877.08 L1579.62,879.07 L1579.77,881.07 L1579.93,883.06 L1580.08,885.05 L1580.24,887.05 L1580.39,889.04 L1580.55,891.04 L1580.7,893.03 L1580.86,895.02 L1581.02,897.02 L1581.17,899.01 L1581.33,901 L1581.49,903 L1581.65,904.99 L1581.8,906.99 L1581.96,908.98 L1582.12,910.97 L1582.28,912.97 L1582.44,914.96 L1582.6,916.95 L1582.76,918.95 L1582.92,920.94 L1583.08,922.93 L1583.24,924.93 L1583.41,926.92 L1583.57,928.92 L1583.73,930.91 L1583.89,932.9 L1584.06,934.9 L1584.22,936.89 L1584.38,938.88 L1584.55,940.87 L1584.71,942.87 L1584.88,944.86 L1585.04,946.85 L1585.21,948.85 L1585.38,950.84 L1585.54,952.83 L1585.71,954.83 L1585.88,956.82 L1586.05,958.81 L1586.21,960.81 L1586.38,962.8 L1586.55,964.79 L1586.72,966.78 L1586.89,968.78 L1587.06,970.77 L1587.23,972.76 L1587.41,974.75 L1587.58,976.75 L1587.75,978.74 L1587.92,980.73 L1588.1,982.72 L1588.27,984.72 L1588.44,986.71 L1588.62,988.7 L1588.79,990.69 L1588.97,992.69 L1589.14,994.68 L1589.32,996.67 L1589.5,998.66 L1589.67,1000.66 L1589.85,1002.65 L1590.03,1004.64 L1590.21,1006.63 L1590.39,1008.62 L1590.57,1010.62 L1590.75,1012.61 L1590.93,1014.6 L1591.11,1016.59 L1591.29,1018.58 L1591.47,1020.57 L1591.66,1022.57 L1591.84,1024.56 L1592.02,1026.55 L1592.21,1028.54 L1592.39,1030.53 L1592.58,1032.52 L1592.76,1034.51 L1592.95,1036.51 L1593.13,1038.5 L1593.32,1040.49 L1593.51,1042.48 L1593.7,1044.47 L1593.89,1046.46 L1594.07,1048.45 L1594.26,1050.44 L1594.46,1052.44 L1594.65,1054.43 L1594.84,1056.42 L1595.03,1058.41 L1595.22,1060.4 L1595.42,1062.39 L1595.61,1064.38 L1595.8,1066.37 L1596,1068.36 L1596.19,1070.35 L1596.39,1072.34 L1596.59,1074.33 L1596.78,1076.32 L1596.98,1078.31 L1597.18,1080.3 L1597.38,1082.29 L1597.58,1084.28 L1597.78,1086.27 L1597.98,1088.26 L1598.18,1090.25 L1598.38,1092.24 L1598.59,1094.23 L1598.79,1096.22 L1598.99,1098.21 L1599.2,1100.2 L1599.4,1102.19 L1599.61,1104.18 L1599.82,1106.17 L1600.02,1108.16 L1600.23,1110.15 L1600.44,1112.14 L1600.65,1114.12 L1600.86,1116.11 L1601.07,1118.1 L1601.28,1120.09 L1601.49,1122.08 L1601.71,1124.07 L1601.92,1126.06 L1602.13,1128.05 L1602.35,1130.03 L1602.56,1132.02 L1602.78,1134.01 L1603,1136 L1603.21,1137.99 L1603.43,1139.98 L1603.65,1141.96 L1603.87,1143.95 L1604.09,1145.94 L1604.32,1147.93 L1604.54,1149.91 L1604.76,1151.9 L1604.99,1153.89 L1605.21,1155.88 L1605.44,1157.86 L1605.66,1159.85 L1605.89,1161.84 L1606.12,1163.82 L1606.35,1165.81 L1606.58,1167.8 L1606.81,1169.78 L1607.04,1171.77 L1607.27,1173.76 L1607.51,1175.74 L1607.74,1177.73 L1607.98,1179.72 L1608.21,1181.7 L1608.45,1183.69 L1608.69,1185.67 L1608.93,1187.66 L1609.17,1189.64 L1609.41,1191.63 L1609.65,1193.62 L1609.9,1195.6 L1610.14,1197.59 L1610.39,1199.57 L1610.63,1201.56 L1610.88,1203.54 L1611.13,1205.52 L1611.38,1207.51 L1611.63,1209.49 L1611.88,1211.48 L1612.14,1213.46 L1612.39,1215.44 L1612.65,1217.43 L1612.9,1219.41 L1613.16,1221.39 L1613.42,1223.38 L1613.68,1225.36 L1613.94,1227.34 L1614.21,1229.33 L1614.47,1231.31 L1614.74,1233.29 L1615,1235.27 L1615.27,1237.26 L1615.54,1239.24 L1615.81,1241.22 L1616.08,1243.2 L1616.36,1245.18 L1616.63,1247.16 L1616.91,1249.14 L1617.19,1251.12 L1617.47,1253.1 L1617.75,1255.08 L1618.03,1257.06 L1618.32,1259.04 L1618.6,1261.02 L1618.89,1263 L1619.18,1264.98 L1619.47,1266.96 L1619.76,1268.94 L1620.06,1270.92 L1620.35,1272.89 L1620.65,1274.87 L1620.95,1276.85 L1621.25,1278.83 L1621.56,1280.8 L1621.86,1282.78 L1622.17,1284.76 L1622.48,1286.73 L1622.79,1288.71 L1623.11,1290.68 L1623.42,1292.66 L1623.74,1294.63 L1624.06,1296.61 L1624.39,1298.58 L1624.71,1300.55 L1625.04,1302.53 L1625.37,1304.5 L1625.7,1306.47 L1626.03,1308.44 L1626.37,1310.41 L1626.71,1312.38 L1627.05,1314.36 L1627.4,1316.33 L1627.75,1318.29 L1628.1,1320.26 L1628.45,1322.23 L1628.81,1324.2 L1629.17,1326.17 L1629.53,1328.13 L1629.89,1330.1 L1630.26,1332.07 L1630.64,1334.03 L1631.01,1336 L1631.39,1337.96 L1631.77,1339.92 L1632.16,1341.89 L1632.55,1343.85 L1632.94,1345.81 L1633.34,1347.77 L1633.74,1349.73 L1634.14,1351.69 L1634.55,1353.64 L1634.96,1355.6 L1635.38,1357.56 L1635.8,1359.51 L1636.23,1361.47 L1636.66,1363.42 L1637.09,1365.37 L1637.53,1367.32 L1637.98,1369.27 L1638.43,1371.22 L1638.88,1373.17 L1639.34,1375.12 L1639.81,1377.06 L1640.28,1379 L1640.76,1380.95 L1641.24,1382.89 L1641.73,1384.83 L1642.23,1386.76 L1642.73,1388.7 L1643.24,1390.63 L1643.76,1392.57 L1644.28,1394.5 L1644.81,1396.42 L1645.35,1398.35 L1645.9,1400.27 L1646.45,1402.2 L1647.01,1404.12 L1647.58,1406.03 L1648.16,1407.95 L1648.75,1409.86 L1649.35,1411.77 L1649.95,1413.67 L1650.57,1415.57 L1651.2,1417.47 L1651.83,1419.37 L1652.48,1421.26 L1653.14,1423.15 L1653.81,1425.03 L1654.5,1426.91 L1655.19,1428.79 L1655.9,1430.66 L1656.62,1432.52 L1657.36,1434.39 L1658.1,1436.24 L1658.87,1438.09 L1659.65,1439.93 L1660.44,1441.77 L1661.25,1443.6 L1662.07,1445.42 L1662.92,1447.23 L1663.78,1449.04 L1664.65,1450.83 L1665.55,1452.62 L1666.47,1454.4 L1667.4,1456.17 L1668.35,1457.93 L1669.33,1459.67 L1670.33,1461.41 L1671.34,1463.13 L1672.38,1464.84 L1673.45,1466.53 L1674.53,1468.21 L1675.64,1469.87 L1676.77,1471.52 L1677.93,1473.15 L1679.11,1474.77 L1680.32,1476.36 L1681.55,1477.94 L1682.8,1479.5 L1684.08,1481.03 L1685.39,1482.55 L1686.72,1484.04 L1688.07,1485.51 L1689.45,1486.96 L1690.86,1488.39 L1692.29,1489.79 L1693.74,1491.16 L1695.21,1492.51 L1696.71,1493.83 L1698.23,1495.13 L1698.26,1495.16 L1698.24,1495.16 L1698.18,1495.14 L1698.11,1495.11 L1698.05,1495.09 L1698.02,1495.1 L1698.05,1495.14 L1698.16,1495.23 L1698.36,1495.39 L1698.68,1495.63 L1699.15,1495.96 L1699.78,1496.4 L1700.59,1496.97 L1701.57,1497.67 L1702.7,1498.48 L1703.95,1499.37 L1705.31,1500.33 L1706.73,1501.33 L1708.2,1502.36 L1709.71,1503.39 L1711.21,1504.39 L1712.69,1505.36 L1714.13,1506.27 L1715.5,1507.1 L1716.83,1507.87 L1718.15,1508.62 L1719.47,1509.34 L1720.8,1510.05 L1722.13,1510.74 L1723.46,1511.41 L1724.8,1512.07 L1726.15,1512.7 L1727.5,1513.32 L1728.85,1513.93 L1730.22,1514.52 L1731.6,1515.1 L1732.99,1515.66 L1734.39,1516.21 L1735.8,1516.74 L1737.22,1517.26 L1738.65,1517.75 L1740.08,1518.24 L1741.52,1518.7 L1742.96,1519.16 L1744.39,1519.59 L1745.83,1520.01 L1747.27,1520.41 L1748.7,1520.8 L1750.11,1521.17 L1751.49,1521.51 L1752.86,1521.82 L1754.21,1522.12 L1755.57,1522.41 L1756.94,1522.67 L1758.32,1522.94 L1759.74,1523.19 L1761.2,1523.44 L1762.7,1523.69 L1764.27,1523.94 L1765.9,1524.2 L1767.61,1524.46 L1769.39,1524.72 L1771.22,1524.97 L1773.11,1525.23 L1775.04,1525.47 L1776.99,1525.72 L1778.97,1525.96 L1780.96,1526.2 L1782.94,1526.43 L1784.92,1526.66 L1786.87,1526.88 L1788.8,1527.1 L1790.67,1527.31 L1792.48,1527.52 L1794.26,1527.73 L1796.01,1527.93 L1797.76,1528.13 L1799.54,1528.32 L1801.35,1528.51 L1803.22,1528.7 L1805.17,1528.88 L1807.22,1529.06 L1809.39,1529.23 L1811.7,1529.4 L1814.14,1529.57 L1816.68,1529.73 L1819.32,1529.89 L1822.04,1530.05 L1824.84,1530.21 L1827.72,1530.36 L1830.66,1530.5 L1833.65,1530.64 L1836.69,1530.77 L1839.76,1530.89 L1842.87,1531 L1846,1531.1 L1849.31,1531.19 L1852.92,1531.27 L1856.74,1531.34 L1860.69,1531.4 L1864.68,1531.46 L1868.64,1531.51 L1872.48,1531.55 L1876.12,1531.59 L1879.48,1531.62 L1882.46,1531.65 L1885,1531.67 L1887,1531.7" fill="none" stroke="#0029CC" stroke-width="7.2" stroke-linejoin="round" stroke-linecap="butt"/>
</g>
<g stroke="#000" fill="#000" stroke-linecap="butt">
<path d="M757.6,104.9 L789.9,124.2 L789.9,162.8 L757.6,182.1 L725.3,162.8 L725.3,124.2 Z" fill="none" stroke-width="4.4" stroke-linejoin="miter"/>
<line x1="732.875" y1="127.129" x2="756.591" y2="112.959" stroke-width="4.4" stroke-linecap="butt"/>
<line x1="783.5" y1="129.2" x2="783.5" y2="157.8" stroke-width="4.4" stroke-linecap="butt"/>
<line x1="732.875" y1="159.871" x2="756.591" y2="174.041" stroke-width="4.4" stroke-linecap="butt"/>
<path d="M693,219.1 L725.3,238.5 L725.3,277.3 L693,296.7 L660.7,277.3 L660.7,238.5 Z" fill="none" stroke-width="4.4" stroke-linejoin="miter"/>
<line x1="668.282" y1="241.412" x2="692.009" y2="227.161" stroke-width="4.4" stroke-linecap="butt"/>
<line x1="718.9" y1="243.5" x2="718.9" y2="272.3" stroke-width="4.4" stroke-linecap="butt"/>
<line x1="668.282" y1="274.388" x2="692.009" y2="288.639" stroke-width="4.4" stroke-linecap="butt"/>
<path d="M822.1,219.5 L854.4,238.7 L854.4,277.1 L822.1,296.3 L789.8,277.1 L789.8,238.7 Z" fill="none" stroke-width="4.4" stroke-linejoin="miter"/>
<line x1="797.368" y1="241.647" x2="821.072" y2="227.556" stroke-width="4.4" stroke-linecap="butt"/>
<line x1="848" y1="243.7" x2="848" y2="272.1" stroke-width="4.4" stroke-linecap="butt"/>
<line x1="797.368" y1="274.153" x2="821.072" y2="288.244" stroke-width="4.4" stroke-linecap="butt"/>
<path d="M1016,104.7 L1049,124.1 L1049,162.9 L1016,182.3 L983,162.9 L983,124.1 Z" fill="none" stroke-width="4.4" stroke-linejoin="miter"/>
<line x1="990.554" y1="127.083" x2="1014.933" y2="112.751" stroke-width="4.4" stroke-linecap="butt"/>
<line x1="1042.6" y1="129.1" x2="1042.6" y2="157.9" stroke-width="4.4" stroke-linecap="butt"/>
<line x1="990.554" y1="159.917" x2="1014.933" y2="174.249" stroke-width="4.4" stroke-linecap="butt"/>
<path d="M951.5,220.4 L984.5,239.45 L984.5,277.55 L951.5,296.6 L918.5,277.55 L918.5,239.45 Z" fill="none" stroke-width="4.4" stroke-linejoin="miter"/>
<line x1="952.631" y1="228.442" x2="976.97" y2="242.493" stroke-width="4.4" stroke-linecap="butt"/>
<line x1="924.9" y1="244.45" x2="924.9" y2="272.55" stroke-width="4.4" stroke-linecap="butt"/>
<line x1="952.631" y1="288.558" x2="976.97" y2="274.507" stroke-width="4.4" stroke-linecap="butt"/>
<path d="M1080.5,220.4 L1112.7,239.45 L1112.7,277.55 L1080.5,296.6 L1048.3,277.55 L1048.3,239.45 Z" fill="none" stroke-width="4.4" stroke-linejoin="miter"/>
<line x1="1055.862" y1="242.412" x2="1079.455" y2="228.454" stroke-width="4.4" stroke-linecap="butt"/>
<line x1="1106.3" y1="244.45" x2="1106.3" y2="272.55" stroke-width="4.4" stroke-linecap="butt"/>
<line x1="1055.862" y1="274.588" x2="1079.455" y2="288.546" stroke-width="4.4" stroke-linecap="butt"/>
<line x1="757.6" y1="182.1" x2="757.6" y2="204" stroke-width="4.4" stroke-linecap="butt"/>
<line x1="725.3" y1="238.5" x2="743.2" y2="228.7" stroke-width="4.4" stroke-linecap="butt"/>
<line x1="769.3" y1="227.4" x2="789.8" y2="238.7" stroke-width="4.4" stroke-linecap="butt"/>
<line x1="854.4" y1="277.1" x2="873" y2="288.5" stroke-width="4.4" stroke-linecap="butt"/>
<line x1="898.8" y1="290" x2="918.5" y2="277.6" stroke-width="4.4" stroke-linecap="butt"/>
<line x1="1016" y1="182.3" x2="1016" y2="203.6" stroke-width="4.4" stroke-linecap="butt"/>
<line x1="984.5" y1="239.5" x2="1001.4" y2="228.5" stroke-width="4.4" stroke-linecap="butt"/>
<line x1="1027" y1="227" x2="1048.3" y2="239.5" stroke-width="4.4" stroke-linecap="butt"/>
<line x1="650.2" y1="127.8" x2="650.2" y2="139.5" stroke-width="5" stroke-linecap="round"/>
<line x1="650.2" y1="166.2" x2="650.2" y2="177.2" stroke-width="5" stroke-linecap="round"/>
<line x1="628.6" y1="142.9" x2="636.1" y2="148.5" stroke-width="5" stroke-linecap="round"/>
<line x1="628.6" y1="169.7" x2="636.1" y2="164.5" stroke-width="5" stroke-linecap="round"/>
<rect x="668.3" y="165.6" width="4" height="4" stroke="none"/>
<line x1="1129.1" y1="142" x2="1129.1" y2="153.7" stroke-width="5" stroke-linecap="round"/>
<line x1="1129.1" y1="180.4" x2="1129.1" y2="191.4" stroke-width="5" stroke-linecap="round"/>
<line x1="1107.5" y1="157.1" x2="1115" y2="162.7" stroke-width="5" stroke-linecap="round"/>
<line x1="1107.5" y1="183.9" x2="1115" y2="178.7" stroke-width="5" stroke-linecap="round"/>
<rect x="1147.2" y="179.8" width="4" height="4" stroke="none"/>
<path d="M885.2,349.2 L917.9,368.2 L917.9,406.2 L885.2,425.2 L852.5,406.2 L852.5,368.2 Z" fill="none" stroke-width="4.4" stroke-linejoin="miter"/>
<line x1="860.039" y1="371.222" x2="884.092" y2="357.246" stroke-width="4.4" stroke-linecap="butt"/>
<line x1="911.5" y1="373.2" x2="911.5" y2="401.2" stroke-width="4.4" stroke-linecap="butt"/>
<line x1="860.039" y1="403.178" x2="884.092" y2="417.154" stroke-width="4.4" stroke-linecap="butt"/>
<path d="M820.75,463.7 L853.5,482.925 L853.5,521.375 L820.75,540.6 L788,521.375 L788,482.925 Z" fill="none" stroke-width="4.4" stroke-linejoin="miter"/>
<line x1="821.822" y1="471.751" x2="845.948" y2="485.913" stroke-width="4.4" stroke-linecap="butt"/>
<line x1="794.4" y1="487.925" x2="794.4" y2="516.375" stroke-width="4.4" stroke-linecap="butt"/>
<line x1="821.822" y1="532.549" x2="845.948" y2="518.387" stroke-width="4.4" stroke-linecap="butt"/>
<path d="M949.6,463.7 L982.3,482.925 L982.3,521.375 L949.6,540.6 L916.9,521.375 L916.9,482.925 Z" fill="none" stroke-width="4.4" stroke-linejoin="miter"/>
<line x1="924.454" y1="485.908" x2="948.533" y2="471.751" stroke-width="4.4" stroke-linecap="butt"/>
<line x1="975.9" y1="487.925" x2="975.9" y2="516.375" stroke-width="4.4" stroke-linecap="butt"/>
<line x1="924.454" y1="518.392" x2="948.533" y2="532.549" stroke-width="4.4" stroke-linecap="butt"/>
<path d="M691.45,463.7 L723.7,482.925 L723.7,521.375 L691.45,540.6 L659.2,521.375 L659.2,482.925 Z" fill="none" stroke-width="4.4" stroke-linejoin="miter"/>
<line x1="666.772" y1="485.862" x2="690.432" y2="471.758" stroke-width="4.4" stroke-linecap="butt"/>
<line x1="717.3" y1="487.925" x2="717.3" y2="516.375" stroke-width="4.4" stroke-linecap="butt"/>
<line x1="666.772" y1="518.438" x2="690.432" y2="532.542" stroke-width="4.4" stroke-linecap="butt"/>
<line x1="885.2" y1="425.2" x2="885.2" y2="447.3" stroke-width="4.4" stroke-linecap="butt"/>
<line x1="853.5" y1="482.9" x2="870.8" y2="472.3" stroke-width="4.4" stroke-linecap="butt"/>
<line x1="896.7" y1="470.4" x2="916.9" y2="482.9" stroke-width="4.4" stroke-linecap="butt"/>
<line x1="723.7" y1="521.4" x2="741.9" y2="531.9" stroke-width="4.4" stroke-linecap="butt"/>
<line x1="767.9" y1="532.9" x2="788" y2="521.4" stroke-width="4.4" stroke-linecap="butt"/>
<line x1="1001.9" y1="373.05" x2="1001.9" y2="384.75" stroke-width="5" stroke-linecap="round"/>
<line x1="1001.9" y1="411.45" x2="1001.9" y2="422.45" stroke-width="5" stroke-linecap="round"/>
<line x1="980.3" y1="388.15" x2="987.8" y2="393.75" stroke-width="5" stroke-linecap="round"/>
<line x1="980.3" y1="414.95" x2="987.8" y2="409.75" stroke-width="5" stroke-linecap="round"/>
<rect x="1020" y="410.85" width="4" height="4" stroke="none"/>
<path d="M861.8,1181.4 L896.6,1201.625 L896.6,1242.075 L861.8,1262.3 L827,1242.075 L827,1201.625 Z" fill="none" stroke-width="4.4" stroke-linejoin="miter"/>
<line x1="834.539" y1="1204.646" x2="860.693" y2="1189.446" stroke-width="4.4" stroke-linecap="butt"/>
<line x1="890.2" y1="1206.625" x2="890.2" y2="1237.075" stroke-width="4.4" stroke-linecap="butt"/>
<line x1="834.539" y1="1239.054" x2="860.693" y2="1254.254" stroke-width="4.4" stroke-linecap="butt"/>
<path d="M998.85,1181.4 L1033.2,1201.625 L1033.2,1242.075 L998.85,1262.3 L964.5,1242.075 L964.5,1201.625 Z" fill="none" stroke-width="4.4" stroke-linejoin="miter"/>
<line x1="972.056" y1="1204.603" x2="997.789" y2="1189.452" stroke-width="4.4" stroke-linecap="butt"/>
<line x1="1026.8" y1="1206.625" x2="1026.8" y2="1237.075" stroke-width="4.4" stroke-linecap="butt"/>
<line x1="972.056" y1="1239.097" x2="997.789" y2="1254.248" stroke-width="4.4" stroke-linecap="butt"/>
<line x1="896.6" y1="1201.6" x2="923.6" y2="1185.7" stroke-width="4.4" stroke-linecap="butt"/>
<line x1="935.8" y1="1184" x2="964.5" y2="1201.6" stroke-width="4.4" stroke-linecap="butt"/>
<path d="M827,1242.1 L793.1,1261.4 L759.1,1241.4 M793.1,1261.4 V1304" fill="none" stroke-width="4.4" stroke-linejoin="miter"/>
<path d="M1033.2,1242.1 L1066.3,1261.4 L1101.9,1241.4 M1066.3,1261.4 V1304" fill="none" stroke-width="4.4" stroke-linejoin="miter"/>
<line x1="1008" y1="1076.1" x2="1008" y2="1087.4" stroke-width="5" stroke-linecap="round"/>
<line x1="1008" y1="1117" x2="1008" y2="1129.2" stroke-width="5" stroke-linecap="round"/>
<line x1="985.3" y1="1090.9" x2="995.8" y2="1098.7" stroke-width="5" stroke-linecap="round"/>
<line x1="984.5" y1="1119.6" x2="995.8" y2="1113.5" stroke-width="5" stroke-linecap="round"/>
<line x1="1021" y1="1112.7" x2="1030.6" y2="1119.6" stroke-width="5" stroke-linecap="round"/>
<line x1="1020.1" y1="1091.8" x2="1030.6" y2="1091.8" stroke-width="2.2" stroke-linecap="butt"/>
<path d="M513.65,1440.9 L546.2,1460.275 L546.2,1499.025 L513.65,1518.4 L481.1,1499.025 L481.1,1460.275 Z" fill="none" stroke-width="4.4" stroke-linejoin="miter"/>
<line x1="488.67" y1="1463.217" x2="512.627" y2="1448.957" stroke-width="4.4" stroke-linecap="butt"/>
<line x1="539.8" y1="1465.275" x2="539.8" y2="1494.025" stroke-width="4.4" stroke-linecap="butt"/>
<line x1="488.67" y1="1496.083" x2="512.627" y2="1510.343" stroke-width="4.4" stroke-linecap="butt"/>
<path d="M644.65,1440.9 L677.2,1460.275 L677.2,1499.025 L644.65,1518.4 L612.1,1499.025 L612.1,1460.275 Z" fill="none" stroke-width="4.4" stroke-linejoin="miter"/>
<line x1="619.67" y1="1463.217" x2="643.627" y2="1448.957" stroke-width="4.4" stroke-linecap="butt"/>
<line x1="670.8" y1="1465.275" x2="670.8" y2="1494.025" stroke-width="4.4" stroke-linecap="butt"/>
<line x1="619.67" y1="1496.083" x2="643.627" y2="1510.343" stroke-width="4.4" stroke-linecap="butt"/>
<line x1="481.1" y1="1499" x2="448.1" y2="1519.2" stroke-width="4.4" stroke-linecap="butt"/>
<line x1="546.2" y1="1460.3" x2="571.8" y2="1445" stroke-width="4.4" stroke-linecap="butt"/>
<line x1="584.1" y1="1444.2" x2="612.1" y2="1460.3" stroke-width="4.4" stroke-linecap="butt"/>
<path d="M677.2,1499 L710.2,1518.4 L742.3,1499.4 L777,1519.2 M742.3,1499.4 V1459.1" fill="none" stroke-width="4.4" stroke-linejoin="miter"/>
<line x1="653.3" y1="1340.4" x2="653.3" y2="1352.7" stroke-width="5" stroke-linecap="round"/>
<line x1="653.3" y1="1379.9" x2="653.3" y2="1390.7" stroke-width="5" stroke-linecap="round"/>
<line x1="631.1" y1="1355.2" x2="641.8" y2="1362.6" stroke-width="5" stroke-linecap="round"/>
<line x1="631.1" y1="1382.4" x2="641.8" y2="1375.8" stroke-width="5" stroke-linecap="round"/>
<line x1="665.7" y1="1375.8" x2="675.6" y2="1382.4" stroke-width="5" stroke-linecap="round"/>
<line x1="665.7" y1="1354.4" x2="677.2" y2="1354.4" stroke-width="2.2" stroke-linecap="butt"/>
</g>
<g fill="#000">
<text transform="translate(748.562,227.178)" font-family="'Liberation Sans', Arial, sans-serif" font-weight="normal" font-style="normal" font-size="27.183" xml:space="preserve">S</text>
<text transform="translate(769.269,211.263)" font-family="'Liberation Sans', Arial, sans-serif" font-weight="normal" font-style="normal" font-size="19.592" xml:space="preserve">+</text>
<text transform="translate(1006.462,227.578)" font-family="'Liberation Sans', Arial, sans-serif" font-weight="normal" font-style="normal" font-size="27.183" xml:space="preserve">S</text>
<text transform="translate(1027.169,211.563)" font-family="'Liberation Sans', Arial, sans-serif" font-weight="normal" font-style="normal" font-size="19.592" xml:space="preserve">+</text>
<text transform="translate(877.362,304.178)" font-family="'Liberation Sans', Arial, sans-serif" font-weight="normal" font-style="normal" font-size="27.183" xml:space="preserve">S</text>
<text transform="translate(641.183,162.498)" font-family="'Liberation Sans', Arial, sans-serif" font-weight="normal" font-style="normal" font-size="25.17" xml:space="preserve">Sb</text>
<text transform="translate(642.169,123.75)" font-family="'Liberation Sans', Arial, sans-serif" font-weight="normal" font-style="normal" font-size="25.942" xml:space="preserve">F</text>
<text transform="translate(608.869,143.15)" font-family="'Liberation Sans', Arial, sans-serif" font-weight="normal" font-style="normal" font-size="25.942" xml:space="preserve">F</text>
<text transform="translate(672.655,143.15)" font-family="'Liberation Sans', Arial, sans-serif" font-weight="normal" font-style="normal" font-size="25.942" xml:space="preserve">E</text>
<text transform="translate(608.869,181.35)" font-family="'Liberation Sans', Arial, sans-serif" font-weight="normal" font-style="normal" font-size="25.942" xml:space="preserve">F</text>
<text transform="translate(673.369,181.35)" font-family="'Liberation Sans', Arial, sans-serif" font-weight="normal" font-style="normal" font-size="25.942" xml:space="preserve">F</text>
<text transform="translate(642.169,200.55)" font-family="'Liberation Sans', Arial, sans-serif" font-weight="normal" font-style="normal" font-size="25.942" xml:space="preserve">F</text>
<text transform="translate(1120.083,176.698)" font-family="'Liberation Sans', Arial, sans-serif" font-weight="normal" font-style="normal" font-size="25.17" xml:space="preserve">Sb</text>
<text transform="translate(1121.069,137.95)" font-family="'Liberation Sans', Arial, sans-serif" font-weight="normal" font-style="normal" font-size="25.942" xml:space="preserve">F</text>
<text transform="translate(1087.769,157.35)" font-family="'Liberation Sans', Arial, sans-serif" font-weight="normal" font-style="normal" font-size="25.942" xml:space="preserve">F</text>
<text transform="translate(1151.555,157.35)" font-family="'Liberation Sans', Arial, sans-serif" font-weight="normal" font-style="normal" font-size="25.942" xml:space="preserve">E</text>
<text transform="translate(1087.769,195.55)" font-family="'Liberation Sans', Arial, sans-serif" font-weight="normal" font-style="normal" font-size="25.942" xml:space="preserve">F</text>
<text transform="translate(1152.269,195.55)" font-family="'Liberation Sans', Arial, sans-serif" font-weight="normal" font-style="normal" font-size="25.942" xml:space="preserve">F</text>
<text transform="translate(1121.069,214.75)" font-family="'Liberation Sans', Arial, sans-serif" font-weight="normal" font-style="normal" font-size="25.942" xml:space="preserve">F</text>
<text transform="translate(876.162,471.578)" font-family="'Liberation Sans', Arial, sans-serif" font-weight="normal" font-style="normal" font-size="27.183" xml:space="preserve">S</text>
<text transform="translate(896.769,455.363)" font-family="'Liberation Sans', Arial, sans-serif" font-weight="normal" font-style="normal" font-size="19.592" xml:space="preserve">+</text>
<text transform="translate(747.262,547.578)" font-family="'Liberation Sans', Arial, sans-serif" font-weight="normal" font-style="normal" font-size="27.183" xml:space="preserve">S</text>
<text transform="translate(992.883,407.748)" font-family="'Liberation Sans', Arial, sans-serif" font-weight="normal" font-style="normal" font-size="25.17" xml:space="preserve">Sb</text>
<text transform="translate(993.869,369)" font-family="'Liberation Sans', Arial, sans-serif" font-weight="normal" font-style="normal" font-size="25.942" xml:space="preserve">F</text>
<text transform="translate(960.569,388.4)" font-family="'Liberation Sans', Arial, sans-serif" font-weight="normal" font-style="normal" font-size="25.942" xml:space="preserve">F</text>
<text transform="translate(1024.355,388.4)" font-family="'Liberation Sans', Arial, sans-serif" font-weight="normal" font-style="normal" font-size="25.942" xml:space="preserve">E</text>
<text transform="translate(960.569,426.6)" font-family="'Liberation Sans', Arial, sans-serif" font-weight="normal" font-style="normal" font-size="25.942" xml:space="preserve">F</text>
<text transform="translate(1025.069,426.6)" font-family="'Liberation Sans', Arial, sans-serif" font-weight="normal" font-style="normal" font-size="25.942" xml:space="preserve">F</text>
<text transform="translate(993.869,445.8)" font-family="'Liberation Sans', Arial, sans-serif" font-weight="normal" font-style="normal" font-size="25.942" xml:space="preserve">F</text>
<text transform="translate(926.294,1188.3)" font-family="'Liberation Sans', Arial, sans-serif" font-weight="normal" font-style="normal" font-size="27.681" xml:space="preserve">I</text>
<text transform="translate(936.469,1171.463)" font-family="'Liberation Sans', Arial, sans-serif" font-weight="normal" font-style="normal" font-size="19.592" xml:space="preserve">+</text>
<text transform="translate(996.883,1112.75)" font-family="'Liberation Sans', Arial, sans-serif" font-weight="normal" font-style="normal" font-size="26.812" xml:space="preserve">P</text>
<text transform="translate(999.569,1071.55)" font-family="'Liberation Sans', Arial, sans-serif" font-weight="normal" font-style="normal" font-size="25.942" xml:space="preserve">F</text>
<text transform="translate(964.769,1092.85)" font-family="'Liberation Sans', Arial, sans-serif" font-weight="normal" font-style="normal" font-size="25.942" xml:space="preserve">F</text>
<text transform="translate(1032.569,1092.85)" font-family="'Liberation Sans', Arial, sans-serif" font-weight="normal" font-style="normal" font-size="25.942" xml:space="preserve">F</text>
<text transform="translate(964.769,1132.95)" font-family="'Liberation Sans', Arial, sans-serif" font-weight="normal" font-style="normal" font-size="25.942" xml:space="preserve">F</text>
<text transform="translate(1032.569,1132.95)" font-family="'Liberation Sans', Arial, sans-serif" font-weight="normal" font-style="normal" font-size="25.942" xml:space="preserve">F</text>
<text transform="translate(999.569,1152.95)" font-family="'Liberation Sans', Arial, sans-serif" font-weight="normal" font-style="normal" font-size="25.942" xml:space="preserve">F</text>
<text transform="translate(575.794,1448.05)" font-family="'Liberation Sans', Arial, sans-serif" font-weight="normal" font-style="normal" font-size="27.681" xml:space="preserve">I</text>
<text transform="translate(584.169,1432.663)" font-family="'Liberation Sans', Arial, sans-serif" font-weight="normal" font-style="normal" font-size="19.592" xml:space="preserve">+</text>
<text transform="translate(643.983,1375.55)" font-family="'Liberation Sans', Arial, sans-serif" font-weight="normal" font-style="normal" font-size="26.812" xml:space="preserve">P</text>
<text transform="translate(644.869,1336.15)" font-family="'Liberation Sans', Arial, sans-serif" font-weight="normal" font-style="normal" font-size="25.942" xml:space="preserve">F</text>
<text transform="translate(611.969,1356.75)" font-family="'Liberation Sans', Arial, sans-serif" font-weight="normal" font-style="normal" font-size="25.942" xml:space="preserve">F</text>
<text transform="translate(677.069,1356.75)" font-family="'Liberation Sans', Arial, sans-serif" font-weight="normal" font-style="normal" font-size="25.942" xml:space="preserve">F</text>
<text transform="translate(611.969,1394.65)" font-family="'Liberation Sans', Arial, sans-serif" font-weight="normal" font-style="normal" font-size="25.942" xml:space="preserve">F</text>
<text transform="translate(677.069,1394.65)" font-family="'Liberation Sans', Arial, sans-serif" font-weight="normal" font-style="normal" font-size="25.942" xml:space="preserve">F</text>
<text transform="translate(644.869,1414.45)" font-family="'Liberation Sans', Arial, sans-serif" font-weight="normal" font-style="normal" font-size="25.942" xml:space="preserve">F</text>
</g>
<path d="M599.6,349.5 L647.9,334.4 L636.7,343.8 L790,343.8 L790,355.2 L636.7,355.2 L647.9,364.6 Z" fill="#FFC000"/>
<path d="M710.2,1168.6 L757.9,1154.0 L746.5,1162.8 L825.2,1162.8 L825.2,1174.4 L746.5,1174.4 L757.9,1183.2 Z" fill="#00B050"/>
<path d="M512.5,1338.8 L526.8,1387.0 L517.9,1377.0 L517.9,1427.7 L507.1,1427.7 L507.1,1377.0 L498.2,1387.0 Z" fill="#EB3300"/>
<path d="M1307.3,283 L1316.8,283 L1317.6,335 L1328.2,335 L1314.2,366 L1299.2,335 L1307.8,335 Z" fill="#000"/>
<path d="M1530.5,287 L1540.0,287 L1540.0,346 L1549.9,346 L1534.8,376.5 L1519.8,346 L1530.5,346 Z" fill="#000"/>
<text transform="translate(346.005,1554.408) scale(0.978,1)" font-family="'Liberation Sans', Arial, sans-serif" font-weight="normal" font-style="normal" font-size="59.155" xml:space="preserve">0</text>
<text transform="translate(201.082,1259.008) scale(0.978,1)" font-family="'Liberation Sans', Arial, sans-serif" font-weight="normal" font-style="normal" font-size="59.155" xml:space="preserve">10,000</text>
<text transform="translate(201.082,963.608) scale(0.978,1)" font-family="'Liberation Sans', Arial, sans-serif" font-weight="normal" font-style="normal" font-size="59.155" xml:space="preserve">20,000</text>
<text transform="translate(201.082,668.208) scale(0.978,1)" font-family="'Liberation Sans', Arial, sans-serif" font-weight="normal" font-style="normal" font-size="59.155" xml:space="preserve">30,000</text>
<text transform="translate(201.082,372.808) scale(0.978,1)" font-family="'Liberation Sans', Arial, sans-serif" font-weight="normal" font-style="normal" font-size="59.155" xml:space="preserve">40,000</text>
<text transform="translate(201.082,77.408) scale(0.978,1)" font-family="'Liberation Sans', Arial, sans-serif" font-weight="normal" font-style="normal" font-size="59.155" xml:space="preserve">50,000</text>
<text transform="translate(1935.686,1554.408) scale(0.978,1)" font-family="'Liberation Sans', Arial, sans-serif" font-weight="normal" font-style="normal" font-size="59.155" xml:space="preserve">0</text>
<text transform="translate(1933.661,1390.297) scale(0.978,1)" font-family="'Liberation Sans', Arial, sans-serif" font-weight="normal" font-style="normal" font-size="59.155" xml:space="preserve">10,000</text>
<text transform="translate(1935.107,1226.186) scale(0.978,1)" font-family="'Liberation Sans', Arial, sans-serif" font-weight="normal" font-style="normal" font-size="59.155" xml:space="preserve">20,000</text>
<text transform="translate(1935.686,1062.075) scale(0.978,1)" font-family="'Liberation Sans', Arial, sans-serif" font-weight="normal" font-style="normal" font-size="59.155" xml:space="preserve">30,000</text>
<text transform="translate(1936.554,897.964) scale(0.978,1)" font-family="'Liberation Sans', Arial, sans-serif" font-weight="normal" font-style="normal" font-size="59.155" xml:space="preserve">40,000</text>
<text transform="translate(1935.686,733.853) scale(0.978,1)" font-family="'Liberation Sans', Arial, sans-serif" font-weight="normal" font-style="normal" font-size="59.155" xml:space="preserve">50,000</text>
<text transform="translate(1935.107,569.742) scale(0.978,1)" font-family="'Liberation Sans', Arial, sans-serif" font-weight="normal" font-style="normal" font-size="59.155" xml:space="preserve">60,000</text>
<text transform="translate(1935.107,405.631) scale(0.978,1)" font-family="'Liberation Sans', Arial, sans-serif" font-weight="normal" font-style="normal" font-size="59.155" xml:space="preserve">70,000</text>
<text transform="translate(1935.397,241.52) scale(0.978,1)" font-family="'Liberation Sans', Arial, sans-serif" font-weight="normal" font-style="normal" font-size="59.155" xml:space="preserve">80,000</text>
<text transform="translate(1935.397,77.408) scale(0.978,1)" font-family="'Liberation Sans', Arial, sans-serif" font-weight="normal" font-style="normal" font-size="59.155" xml:space="preserve">90,000</text>
<text transform="translate(379.932,1625.307) scale(0.978,1)" font-family="'Liberation Sans', Arial, sans-serif" font-weight="normal" font-style="normal" font-size="59.296" xml:space="preserve">200</text>
<text transform="translate(512.296,1625.307) scale(0.978,1)" font-family="'Liberation Sans', Arial, sans-serif" font-weight="normal" font-style="normal" font-size="59.296" xml:space="preserve">225</text>
<text transform="translate(644.66,1625.307) scale(0.978,1)" font-family="'Liberation Sans', Arial, sans-serif" font-weight="normal" font-style="normal" font-size="59.296" xml:space="preserve">250</text>
<text transform="translate(777.023,1625.307) scale(0.978,1)" font-family="'Liberation Sans', Arial, sans-serif" font-weight="normal" font-style="normal" font-size="59.296" xml:space="preserve">275</text>
<text transform="translate(909.677,1625.307) scale(0.978,1)" font-family="'Liberation Sans', Arial, sans-serif" font-weight="normal" font-style="normal" font-size="59.296" xml:space="preserve">300</text>
<text transform="translate(1042.04,1625.307) scale(0.978,1)" font-family="'Liberation Sans', Arial, sans-serif" font-weight="normal" font-style="normal" font-size="59.296" xml:space="preserve">325</text>
<text transform="translate(1174.404,1625.307) scale(0.978,1)" font-family="'Liberation Sans', Arial, sans-serif" font-weight="normal" font-style="normal" font-size="59.296" xml:space="preserve">350</text>
<text transform="translate(1306.768,1625.307) scale(0.978,1)" font-family="'Liberation Sans', Arial, sans-serif" font-weight="normal" font-style="normal" font-size="59.296" xml:space="preserve">375</text>
<text transform="translate(1439.566,1625.307) scale(0.978,1)" font-family="'Liberation Sans', Arial, sans-serif" font-weight="normal" font-style="normal" font-size="59.296" xml:space="preserve">400</text>
<text transform="translate(1571.93,1625.307) scale(0.978,1)" font-family="'Liberation Sans', Arial, sans-serif" font-weight="normal" font-style="normal" font-size="59.296" xml:space="preserve">425</text>
<text transform="translate(1704.294,1625.307) scale(0.978,1)" font-family="'Liberation Sans', Arial, sans-serif" font-weight="normal" font-style="normal" font-size="59.296" xml:space="preserve">450</text>
<text transform="translate(1836.657,1625.299) scale(0.964,1)" font-family="'Liberation Sans', Arial, sans-serif" font-weight="normal" font-style="normal" font-size="60.143" xml:space="preserve">475</text>
<text transform="translate(1372.846,173.7) scale(0.978,1)" font-family="'DejaVu Sans', Verdana, sans-serif" font-weight="normal" font-style="italic" font-size="67.671" xml:space="preserve">LEDs</text>
<text transform="translate(1252,271.706) scale(0.968,1)" font-family="'DejaVu Sans', Verdana, sans-serif" font-weight="normal" font-style="italic" font-size="59.603" xml:space="preserve">365nm</text>
<text transform="translate(1485.834,268.406) scale(0.978,1)" font-family="'DejaVu Sans', Verdana, sans-serif" font-weight="normal" font-style="italic" font-size="59.603" xml:space="preserve">405nm</text>
<text transform="translate(891.8,1710.9) scale(0.935,1)" font-family="'Liberation Sans', Arial, sans-serif" font-weight="bold" font-style="normal" font-size="70.87" xml:space="preserve">Wavelength  [nm]</text>
<text transform="translate(93.1,1188.228) rotate(-90) scale(0.996,1)" font-family="'Liberation Sans', Arial, sans-serif" font-weight="bold" font-style="normal" font-size="68.406" xml:space="preserve">Molar extinction coefficient</text>
<text transform="translate(170,980.461) rotate(-90) scale(1.025,1)" font-family="'Liberation Sans', Arial, sans-serif" font-weight="bold" font-style="normal" font-size="64.966" xml:space="preserve">[dm</text>
<text transform="translate(148.958,856.755) rotate(-90) scale(1.049,1)" font-family="'Liberation Sans', Arial, sans-serif" font-weight="normal" font-style="normal" font-size="44.225" xml:space="preserve" stroke="#000" stroke-width="1.3" stroke-linejoin="round">3</text>
<text transform="translate(170,818.127) rotate(-90) scale(1.048,1)" font-family="'Liberation Sans', Arial, sans-serif" font-weight="bold" font-style="normal" font-size="64.966" xml:space="preserve">mol</text>
<text transform="translate(150,696.438) rotate(-90) scale(0.833,1)" font-family="'Liberation Sans', Arial, sans-serif" font-weight="normal" font-style="normal" font-size="46.377" xml:space="preserve" stroke="#000" stroke-width="1.3" stroke-linejoin="round">-1</text>
<text transform="translate(170,656.168) rotate(-90) scale(1.029,1)" font-family="'Liberation Sans', Arial, sans-serif" font-weight="bold" font-style="normal" font-size="64.815" xml:space="preserve">cm</text>
<text transform="translate(150,558.266) rotate(-90) scale(0.846,1)" font-family="'Liberation Sans', Arial, sans-serif" font-weight="normal" font-style="normal" font-size="46.377" xml:space="preserve" stroke="#000" stroke-width="1.3" stroke-linejoin="round">-1</text>
<text transform="translate(169.369,517.534) rotate(-90) scale(0.991,1)" font-family="'Liberation Sans', Arial, sans-serif" font-weight="bold" font-style="normal" font-size="63.957" xml:space="preserve">]</text>
<text transform="translate(2215,949.984) rotate(-90) scale(1.03,1)" font-family="'Liberation Sans', Arial, sans-serif" font-weight="bold" font-style="normal" font-size="61.014" xml:space="preserve">Intensity [a.u.</text>
<text transform="translate(2214.525,544.547) rotate(-90) scale(1.014,1)" font-family="'Liberation Sans', Arial, sans-serif" font-weight="bold" font-style="normal" font-size="73.69" xml:space="preserve">]</text>
</svg>
</body></html>
